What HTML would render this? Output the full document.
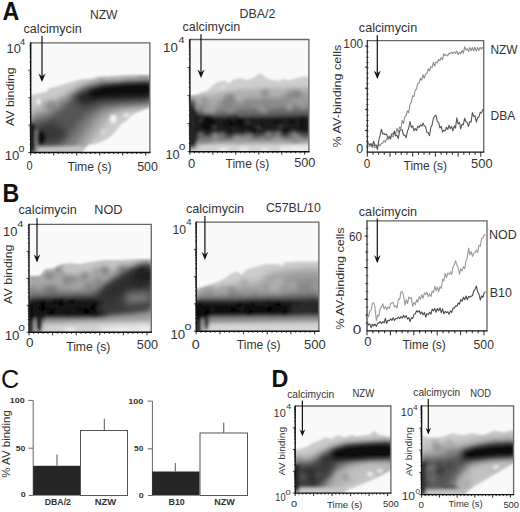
<!DOCTYPE html>
<html><head><meta charset="utf-8"><title>figure</title><style>
html,body{margin:0;padding:0;background:#fff;width:520px;height:512px;overflow:hidden}
svg{display:block;font-family:"Liberation Sans",sans-serif}
</style></head><body>
<svg width="520" height="512" viewBox="0 0 520 512">
<defs><filter id="blur" filterUnits="userSpaceOnUse" x="0" y="0" width="520" height="512"><feGaussianBlur stdDeviation="0.8"/></filter>
<filter id="b1" filterUnits="userSpaceOnUse" x="0" y="0" width="520" height="512"><feGaussianBlur stdDeviation="1.2"/></filter>
<filter id="b2" filterUnits="userSpaceOnUse" x="0" y="0" width="520" height="512"><feGaussianBlur stdDeviation="2.2"/></filter>
<filter id="b3" filterUnits="userSpaceOnUse" x="0" y="0" width="520" height="512"><feGaussianBlur stdDeviation="3.5"/></filter></defs>
<rect width="520" height="512" fill="#fff"/>
<clipPath id="cA1"><rect x="30.7" y="42.8" width="119.2" height="109.7"/></clipPath>
<g clip-path="url(#cA1)">
<rect x="30.7" y="42.8" width="119.2" height="109.7" fill="#f9f9f9"/>
<g filter="url(#blur)">
<clipPath id="eA1"><polygon points="30.0,95.5 37.0,93.7 46.0,91.9 49.6,88.3 56.8,86.5 65.8,83.8 74.7,81.1 81.9,79.3 92.0,78.4 98.8,76.6 115.0,75.7 133.0,74.8 151.0,75.2 151.0,107.1 133.0,114.3 127.6,119.7 120.4,125.1 115.0,132.3 111.4,136.0 106.0,139.5 98.8,143.1 88.0,144.9 84.0,149.0 82.0,154.0 30.0,154.0"/></clipPath>
<polygon points="30.0,95.5 37.0,93.7 46.0,91.9 49.6,88.3 56.8,86.5 65.8,83.8 74.7,81.1 81.9,79.3 92.0,78.4 98.8,76.6 115.0,75.7 133.0,74.8 151.0,75.2 151.0,107.1 133.0,114.3 127.6,119.7 120.4,125.1 115.0,132.3 111.4,136.0 106.0,139.5 98.8,143.1 88.0,144.9 84.0,149.0 82.0,154.0 30.0,154.0" fill="#cbcbcb"/>
<g clip-path="url(#eA1)">
<polygon points="30.0,112.0 50.0,104.0 65.0,95.0 80.0,87.0 95.0,81.0 120.0,79.0 151.0,78.0 151.0,106.0 130.0,109.0 115.0,114.0 105.0,122.0 98.0,132.0 90.0,142.0 84.0,152.0 30.0,152.0" fill="#a4a4a4" filter="url(#b3)"/>
<ellipse cx="41.4" cy="103.5" rx="4.2" ry="4.5" fill="#b4b4b4" filter="url(#b2)"/>
<ellipse cx="144.5" cy="76.7" rx="5.1" ry="3.1" fill="#909090" filter="url(#b2)"/>
<ellipse cx="112.8" cy="83.1" rx="4.6" ry="3.9" fill="#a8a8a8" filter="url(#b2)"/>
<ellipse cx="62.5" cy="124.7" rx="3.4" ry="4.8" fill="#a8a8a8" filter="url(#b2)"/>
<ellipse cx="77.6" cy="96.5" rx="4.2" ry="4.3" fill="#b4b4b4" filter="url(#b2)"/>
<ellipse cx="63.1" cy="103.2" rx="4.8" ry="4.2" fill="#909090" filter="url(#b2)"/>
<ellipse cx="132.3" cy="81.8" rx="3.6" ry="5.0" fill="#a8a8a8" filter="url(#b2)"/>
<ellipse cx="43.3" cy="136.0" rx="5.6" ry="4.5" fill="#b4b4b4" filter="url(#b2)"/>
<ellipse cx="62.9" cy="115.5" rx="4.1" ry="3.6" fill="#b4b4b4" filter="url(#b2)"/>
<ellipse cx="93.0" cy="92.1" rx="3.9" ry="4.2" fill="#a8a8a8" filter="url(#b2)"/>
<ellipse cx="111.1" cy="100.0" rx="5.9" ry="5.3" fill="#909090" filter="url(#b2)"/>
<ellipse cx="126.9" cy="83.0" rx="3.5" ry="4.4" fill="#9c9c9c" filter="url(#b2)"/>
<ellipse cx="50.3" cy="105.5" rx="5.8" ry="4.3" fill="#909090" filter="url(#b2)"/>
<ellipse cx="113.7" cy="86.2" rx="3.9" ry="5.0" fill="#b4b4b4" filter="url(#b2)"/>
<ellipse cx="52.5" cy="105.5" rx="4.0" ry="3.8" fill="#909090" filter="url(#b2)"/>
<ellipse cx="101.8" cy="83.8" rx="3.3" ry="5.4" fill="#909090" filter="url(#b2)"/>
<ellipse cx="145.7" cy="78.6" rx="3.5" ry="5.4" fill="#b4b4b4" filter="url(#b2)"/>
<ellipse cx="92.3" cy="101.5" rx="5.4" ry="3.5" fill="#9c9c9c" filter="url(#b2)"/>
<ellipse cx="148.0" cy="75.5" rx="4.8" ry="5.0" fill="#a8a8a8" filter="url(#b2)"/>
<ellipse cx="55.2" cy="134.5" rx="5.1" ry="5.3" fill="#909090" filter="url(#b2)"/>
<ellipse cx="68.0" cy="130.3" rx="6.0" ry="3.6" fill="#909090" filter="url(#b2)"/>
<ellipse cx="50.6" cy="127.0" rx="4.3" ry="5.4" fill="#b4b4b4" filter="url(#b2)"/>
<ellipse cx="53.7" cy="142.4" rx="3.1" ry="4.4" fill="#b4b4b4" filter="url(#b2)"/>
<ellipse cx="126.8" cy="89.4" rx="5.6" ry="4.6" fill="#a8a8a8" filter="url(#b2)"/>
<ellipse cx="101.4" cy="96.8" rx="5.1" ry="4.1" fill="#b4b4b4" filter="url(#b2)"/>
<ellipse cx="97.6" cy="106.1" rx="4.4" ry="4.6" fill="#a8a8a8" filter="url(#b2)"/>
<ellipse cx="75.9" cy="105.3" rx="4.6" ry="3.6" fill="#b4b4b4" filter="url(#b2)"/>
<ellipse cx="143.7" cy="76.3" rx="4.7" ry="3.1" fill="#909090" filter="url(#b2)"/>
<ellipse cx="120.6" cy="83.2" rx="3.7" ry="5.1" fill="#b4b4b4" filter="url(#b2)"/>
<ellipse cx="86.8" cy="113.8" rx="4.6" ry="3.4" fill="#9c9c9c" filter="url(#b2)"/>
<ellipse cx="120.9" cy="92.6" rx="3.1" ry="4.4" fill="#9c9c9c" filter="url(#b2)"/>
<ellipse cx="68.5" cy="100.2" rx="5.4" ry="3.7" fill="#a8a8a8" filter="url(#b2)"/>
<ellipse cx="43.7" cy="120.5" rx="5.1" ry="3.3" fill="#9c9c9c" filter="url(#b2)"/>
<ellipse cx="78.0" cy="119.5" rx="4.1" ry="4.8" fill="#909090" filter="url(#b2)"/>
<ellipse cx="146.6" cy="73.0" rx="5.1" ry="5.1" fill="#a8a8a8" filter="url(#b2)"/>
<ellipse cx="142.9" cy="78.7" rx="3.5" ry="2.8" fill="#a8a8a8" filter="url(#b2)"/>
<ellipse cx="56.9" cy="139.1" rx="5.5" ry="5.3" fill="#9c9c9c" filter="url(#b2)"/>
<ellipse cx="81.8" cy="119.5" rx="3.9" ry="5.2" fill="#9c9c9c" filter="url(#b2)"/>
<ellipse cx="84.4" cy="118.4" rx="3.7" ry="4.3" fill="#9c9c9c" filter="url(#b2)"/>
<ellipse cx="133.5" cy="82.6" rx="5.1" ry="2.8" fill="#a8a8a8" filter="url(#b2)"/>
<polygon points="30.0,118.0 45.0,114.0 60.0,106.0 72.0,96.0 85.0,88.0 100.0,84.0 151.0,82.0 151.0,104.0 120.0,106.0 105.0,110.0 95.0,118.0 88.0,128.0 80.0,140.0 72.0,150.0 30.0,151.0" fill="#7a7a7a" filter="url(#b3)"/>
<polygon points="30.0,123.0 45.0,120.0 58.0,112.0 70.0,101.0 82.0,92.0 95.0,87.0 151.0,84.0 151.0,101.0 115.0,103.0 98.0,107.0 88.0,114.0 78.0,125.0 68.0,137.0 60.0,146.0 30.0,148.0" fill="#555555" filter="url(#b3)"/>
<ellipse cx="50" cy="133" rx="15" ry="10" fill="#383838" filter="url(#b3)"/>
<polygon points="72.0,97.0 88.0,89.0 151.0,84.0 151.0,99.0 100.0,101.0 84.0,106.0" fill="#262626" filter="url(#b3)"/>
<polygon points="90.0,91.0 105.0,85.5 125.0,83.5 151.0,82.5 151.0,95.0 125.0,95.5 105.0,96.5 90.0,98.0" fill="#0c0c0c" filter="url(#b2)"/>
<ellipse cx="38.8" cy="101.8" rx="2.2" ry="3.0" fill="#f4f4f4" filter="url(#b1)"/>
<ellipse cx="113.2" cy="118.8" rx="3.4" ry="4.3" fill="#f4f4f4" filter="url(#b1)"/>
<ellipse cx="126.5" cy="115.2" rx="3.5" ry="1.8" fill="#eeeeee" filter="url(#b1)"/>
<ellipse cx="103.2" cy="131.8" rx="1.8" ry="1.4" fill="#f0f0f0" filter="url(#b1)"/>
<polygon points="36.0,147.0 82.0,146.0 84.0,153.0 36.0,153.0" fill="#c4c4c4" filter="url(#b1)"/>
<polygon points="30.0,123.0 34.5,124.0 34.5,152.0 30.0,152.0" fill="#111111" filter="url(#b1)"/>
<polygon points="35.0,130.0 37.5,130.0 37.5,152.0 35.0,152.0" fill="#8a8a8a" filter="url(#b1)"/>
<ellipse cx="41.5" cy="138" rx="3.5" ry="7" fill="#111111" filter="url(#b1)"/>
</g></g></g>
<clipPath id="cA2"><rect x="189.9" y="39.5" width="119.0" height="112.2"/></clipPath>
<g clip-path="url(#cA2)">
<rect x="189.9" y="39.5" width="119.0" height="112.2" fill="#f9f9f9"/>
<g filter="url(#blur)">
<clipPath id="eA2"><polygon points="189.0,96.0 196.0,95.0 203.0,92.0 208.0,90.0 213.0,85.0 218.0,82.0 224.0,80.5 229.0,83.0 233.0,80.0 240.0,78.0 246.0,80.0 251.0,79.0 256.0,76.0 259.0,73.0 263.0,75.0 268.0,79.0 273.0,80.0 279.0,81.0 283.0,79.0 290.0,80.0 297.0,78.0 303.0,76.5 310.0,77.0 310.0,152.0 189.0,152.0"/></clipPath>
<polygon points="189.0,96.0 196.0,95.0 203.0,92.0 208.0,90.0 213.0,85.0 218.0,82.0 224.0,80.5 229.0,83.0 233.0,80.0 240.0,78.0 246.0,80.0 251.0,79.0 256.0,76.0 259.0,73.0 263.0,75.0 268.0,79.0 273.0,80.0 279.0,81.0 283.0,79.0 290.0,80.0 297.0,78.0 303.0,76.5 310.0,77.0 310.0,152.0 189.0,152.0" fill="#cfcfcf"/>
<g clip-path="url(#eA2)">
<ellipse cx="283" cy="73.5" rx="2.5" ry="2.2" fill="#d4d4d4" filter="url(#b1)"/>
<ellipse cx="294" cy="75" rx="1.5" ry="1.5" fill="#dadada" filter="url(#b1)"/>
<ellipse cx="223" cy="87" rx="2" ry="1.5" fill="#eeeeee" filter="url(#b1)"/>
<polygon points="189.0,100.0 205.0,96.0 220.0,92.0 240.0,90.0 260.0,88.0 280.0,88.0 310.0,87.0 310.0,146.0 189.0,146.0" fill="#b0b0b0" filter="url(#b2)"/>
<polygon points="189.0,104.0 210.0,102.0 240.0,99.0 270.0,98.0 310.0,96.0 310.0,141.0 189.0,141.0" fill="#8e8e8e" filter="url(#b2)"/>
<polygon points="189.0,110.0 210.0,110.0 240.0,109.0 270.0,108.0 310.0,107.0 310.0,120.0 189.0,120.0" fill="#6a6a6a" filter="url(#b2)"/>
<ellipse cx="264.3" cy="106.8" rx="4.5" ry="4.4" fill="#808080" filter="url(#b2)"/>
<ellipse cx="289.5" cy="107.5" rx="3.1" ry="2.4" fill="#b0b0b0" filter="url(#b2)"/>
<ellipse cx="205.1" cy="101.4" rx="3.1" ry="3.5" fill="#b0b0b0" filter="url(#b2)"/>
<ellipse cx="193.5" cy="96.3" rx="3.2" ry="4.3" fill="#a0a0a0" filter="url(#b2)"/>
<ellipse cx="210.5" cy="107.9" rx="2.8" ry="3.6" fill="#b0b0b0" filter="url(#b2)"/>
<ellipse cx="207.3" cy="111.4" rx="2.5" ry="4.0" fill="#b0b0b0" filter="url(#b2)"/>
<ellipse cx="293.2" cy="97.8" rx="4.9" ry="3.5" fill="#b0b0b0" filter="url(#b2)"/>
<ellipse cx="213.1" cy="111.4" rx="3.0" ry="4.4" fill="#a0a0a0" filter="url(#b2)"/>
<ellipse cx="226.7" cy="99.2" rx="2.9" ry="2.6" fill="#808080" filter="url(#b2)"/>
<ellipse cx="230.5" cy="108.3" rx="4.0" ry="3.6" fill="#8a8a8a" filter="url(#b2)"/>
<ellipse cx="199.7" cy="99.1" rx="3.3" ry="3.8" fill="#b0b0b0" filter="url(#b2)"/>
<ellipse cx="247.8" cy="106.1" rx="2.6" ry="4.4" fill="#808080" filter="url(#b2)"/>
<ellipse cx="302.1" cy="99.2" rx="3.5" ry="3.5" fill="#a0a0a0" filter="url(#b2)"/>
<ellipse cx="234.5" cy="103.6" rx="2.5" ry="2.4" fill="#b0b0b0" filter="url(#b2)"/>
<ellipse cx="264.4" cy="111.1" rx="2.8" ry="2.8" fill="#a0a0a0" filter="url(#b2)"/>
<ellipse cx="231.9" cy="99.1" rx="3.8" ry="4.0" fill="#808080" filter="url(#b2)"/>
<ellipse cx="260.4" cy="107.6" rx="3.4" ry="2.9" fill="#a0a0a0" filter="url(#b2)"/>
<ellipse cx="301.7" cy="93.8" rx="3.4" ry="3.6" fill="#b0b0b0" filter="url(#b2)"/>
<ellipse cx="231.4" cy="110.5" rx="3.9" ry="3.0" fill="#8a8a8a" filter="url(#b2)"/>
<ellipse cx="227.5" cy="108.0" rx="4.1" ry="3.9" fill="#8a8a8a" filter="url(#b2)"/>
<ellipse cx="307.6" cy="95.2" rx="2.6" ry="4.5" fill="#a0a0a0" filter="url(#b2)"/>
<ellipse cx="195.7" cy="106.8" rx="3.4" ry="2.8" fill="#a0a0a0" filter="url(#b2)"/>
<ellipse cx="208.9" cy="111.6" rx="4.1" ry="4.1" fill="#8a8a8a" filter="url(#b2)"/>
<ellipse cx="289.3" cy="94.6" rx="4.3" ry="4.4" fill="#a0a0a0" filter="url(#b2)"/>
<ellipse cx="204.4" cy="100.7" rx="2.9" ry="4.2" fill="#8a8a8a" filter="url(#b2)"/>
<ellipse cx="208.4" cy="110.4" rx="4.1" ry="2.6" fill="#a0a0a0" filter="url(#b2)"/>
<ellipse cx="303.4" cy="105.8" rx="3.3" ry="2.9" fill="#a0a0a0" filter="url(#b2)"/>
<ellipse cx="238.8" cy="94.9" rx="3.4" ry="4.5" fill="#b0b0b0" filter="url(#b2)"/>
<ellipse cx="264.7" cy="102.0" rx="3.3" ry="2.5" fill="#8a8a8a" filter="url(#b2)"/>
<ellipse cx="251.8" cy="103.0" rx="3.8" ry="2.4" fill="#8a8a8a" filter="url(#b2)"/>
<ellipse cx="272.6" cy="105.3" rx="4.4" ry="3.1" fill="#8a8a8a" filter="url(#b2)"/>
<ellipse cx="288.9" cy="97.3" rx="5.0" ry="3.9" fill="#8a8a8a" filter="url(#b2)"/>
<ellipse cx="267.4" cy="103.6" rx="2.5" ry="3.5" fill="#8a8a8a" filter="url(#b2)"/>
<ellipse cx="229.8" cy="97.5" rx="3.2" ry="3.4" fill="#8a8a8a" filter="url(#b2)"/>
<ellipse cx="232.4" cy="104.9" rx="4.3" ry="4.1" fill="#8a8a8a" filter="url(#b2)"/>
<ellipse cx="299.0" cy="95.4" rx="4.7" ry="3.3" fill="#8a8a8a" filter="url(#b2)"/>
<ellipse cx="303.0" cy="102.4" rx="3.8" ry="2.6" fill="#8a8a8a" filter="url(#b2)"/>
<ellipse cx="300.7" cy="101.5" rx="4.2" ry="3.9" fill="#a0a0a0" filter="url(#b2)"/>
<ellipse cx="211.9" cy="107.6" rx="4.0" ry="3.7" fill="#a0a0a0" filter="url(#b2)"/>
<ellipse cx="227.1" cy="103.1" rx="4.7" ry="2.9" fill="#808080" filter="url(#b2)"/>
<ellipse cx="214.7" cy="103.7" rx="4.1" ry="2.7" fill="#b0b0b0" filter="url(#b2)"/>
<ellipse cx="265.2" cy="92.8" rx="3.7" ry="2.8" fill="#808080" filter="url(#b2)"/>
<ellipse cx="295.4" cy="94.2" rx="4.9" ry="3.3" fill="#808080" filter="url(#b2)"/>
<ellipse cx="240.2" cy="99.0" rx="4.2" ry="2.4" fill="#b0b0b0" filter="url(#b2)"/>
<ellipse cx="219.6" cy="110.1" rx="2.5" ry="3.2" fill="#8a8a8a" filter="url(#b2)"/>
<polygon points="189.0,113.0 210.0,115.0 240.0,116.0 270.0,115.5 310.0,114.0 310.0,137.0 270.0,138.0 240.0,138.0 189.0,140.0" fill="#3a3a3a" filter="url(#b2)"/>
<polygon points="189.0,104.0 194.0,108.0 198.0,116.0 215.0,118.0 240.0,118.5 270.0,118.0 310.0,117.5 310.0,132.0 270.0,132.0 240.0,133.0 215.0,134.0 199.0,136.0 194.0,145.0 189.0,146.0" fill="#1a1a1a" filter="url(#b1)"/>
<ellipse cx="229.6" cy="119.6" rx="3.0" ry="1.9" fill="#0a0a0a" filter="url(#b1)"/>
<ellipse cx="234.4" cy="118.0" rx="2.8" ry="1.9" fill="#111" filter="url(#b1)"/>
<ellipse cx="240.5" cy="121.1" rx="2.8" ry="1.9" fill="#0a0a0a" filter="url(#b1)"/>
<ellipse cx="301.9" cy="127.7" rx="2.9" ry="1.9" fill="#111" filter="url(#b1)"/>
<ellipse cx="197.8" cy="120.8" rx="2.8" ry="2.0" fill="#111" filter="url(#b1)"/>
<ellipse cx="208.7" cy="119.0" rx="2.5" ry="2.9" fill="#0a0a0a" filter="url(#b1)"/>
<ellipse cx="204.0" cy="126.7" rx="2.3" ry="1.9" fill="#0a0a0a" filter="url(#b1)"/>
<ellipse cx="257.5" cy="127.5" rx="2.7" ry="2.5" fill="#383838" filter="url(#b1)"/>
<ellipse cx="246.0" cy="132.7" rx="2.5" ry="2.1" fill="#0a0a0a" filter="url(#b1)"/>
<ellipse cx="273.1" cy="121.1" rx="2.9" ry="2.5" fill="#383838" filter="url(#b1)"/>
<ellipse cx="276.6" cy="121.9" rx="3.5" ry="2.0" fill="#111" filter="url(#b1)"/>
<ellipse cx="211.1" cy="122.8" rx="3.4" ry="2.4" fill="#0a0a0a" filter="url(#b1)"/>
<ellipse cx="280.7" cy="126.7" rx="3.3" ry="2.2" fill="#383838" filter="url(#b1)"/>
<ellipse cx="260.9" cy="126.9" rx="2.7" ry="2.9" fill="#383838" filter="url(#b1)"/>
<ellipse cx="247.0" cy="128.3" rx="2.1" ry="2.7" fill="#111" filter="url(#b1)"/>
<ellipse cx="225.0" cy="123.6" rx="3.0" ry="1.8" fill="#111" filter="url(#b1)"/>
<ellipse cx="233.2" cy="127.4" rx="2.7" ry="2.1" fill="#383838" filter="url(#b1)"/>
<ellipse cx="207.0" cy="121.2" rx="2.6" ry="3.0" fill="#0a0a0a" filter="url(#b1)"/>
<ellipse cx="211.3" cy="123.8" rx="2.4" ry="2.0" fill="#111" filter="url(#b1)"/>
<ellipse cx="292.2" cy="121.7" rx="2.6" ry="2.3" fill="#111" filter="url(#b1)"/>
<ellipse cx="303.1" cy="119.6" rx="2.3" ry="2.1" fill="#0a0a0a" filter="url(#b1)"/>
<ellipse cx="193.4" cy="131.1" rx="2.3" ry="2.2" fill="#0a0a0a" filter="url(#b1)"/>
<ellipse cx="240.6" cy="123.3" rx="2.8" ry="3.1" fill="#0a0a0a" filter="url(#b1)"/>
<ellipse cx="245.0" cy="131.8" rx="3.4" ry="2.7" fill="#111" filter="url(#b1)"/>
<ellipse cx="238.2" cy="123.7" rx="2.7" ry="2.3" fill="#0a0a0a" filter="url(#b1)"/>
<ellipse cx="199.8" cy="120.5" rx="2.2" ry="2.3" fill="#0a0a0a" filter="url(#b1)"/>
<ellipse cx="203.9" cy="126.6" rx="2.8" ry="3.1" fill="#0a0a0a" filter="url(#b1)"/>
<ellipse cx="200.2" cy="120.5" rx="2.6" ry="2.7" fill="#383838" filter="url(#b1)"/>
<ellipse cx="261.9" cy="125.1" rx="2.2" ry="2.5" fill="#111" filter="url(#b1)"/>
<ellipse cx="247.7" cy="122.3" rx="2.2" ry="2.8" fill="#383838" filter="url(#b1)"/>
<ellipse cx="247.5" cy="128.8" rx="2.8" ry="2.1" fill="#383838" filter="url(#b1)"/>
<ellipse cx="209.0" cy="126.2" rx="2.0" ry="2.5" fill="#0a0a0a" filter="url(#b1)"/>
<ellipse cx="272.8" cy="121.4" rx="2.6" ry="2.0" fill="#0a0a0a" filter="url(#b1)"/>
<ellipse cx="253.8" cy="130.2" rx="2.5" ry="2.1" fill="#0a0a0a" filter="url(#b1)"/>
<ellipse cx="285.5" cy="130.9" rx="3.1" ry="2.1" fill="#111" filter="url(#b1)"/>
<ellipse cx="233.2" cy="117.5" rx="2.0" ry="2.2" fill="#383838" filter="url(#b1)"/>
<ellipse cx="214.5" cy="127.3" rx="2.5" ry="2.9" fill="#383838" filter="url(#b1)"/>
<ellipse cx="302.8" cy="123.2" rx="2.3" ry="2.1" fill="#0a0a0a" filter="url(#b1)"/>
<ellipse cx="231.2" cy="125.2" rx="3.5" ry="2.6" fill="#0a0a0a" filter="url(#b1)"/>
<ellipse cx="247.6" cy="128.1" rx="3.2" ry="1.9" fill="#0a0a0a" filter="url(#b1)"/>
<ellipse cx="250.0" cy="137.4" rx="2.7" ry="3.4" fill="#999" filter="url(#b2)"/>
<ellipse cx="236.5" cy="138.2" rx="3.4" ry="2.7" fill="#aaa" filter="url(#b2)"/>
<ellipse cx="275.6" cy="140.6" rx="2.8" ry="3.5" fill="#aaa" filter="url(#b2)"/>
<ellipse cx="245.6" cy="135.5" rx="2.6" ry="2.4" fill="#aaa" filter="url(#b2)"/>
<ellipse cx="206.8" cy="140.2" rx="3.7" ry="3.4" fill="#808080" filter="url(#b2)"/>
<ellipse cx="222.1" cy="136.0" rx="3.7" ry="3.5" fill="#808080" filter="url(#b2)"/>
<ellipse cx="298.4" cy="137.6" rx="3.0" ry="2.3" fill="#aaa" filter="url(#b2)"/>
<ellipse cx="295.7" cy="141.9" rx="2.6" ry="2.8" fill="#808080" filter="url(#b2)"/>
<ellipse cx="215.0" cy="136.1" rx="3.6" ry="3.4" fill="#aaa" filter="url(#b2)"/>
<ellipse cx="200.4" cy="140.9" rx="2.8" ry="3.4" fill="#808080" filter="url(#b2)"/>
<ellipse cx="200.9" cy="134.8" rx="3.3" ry="2.3" fill="#999" filter="url(#b2)"/>
<ellipse cx="261.9" cy="138.8" rx="2.8" ry="2.3" fill="#999" filter="url(#b2)"/>
<ellipse cx="269.0" cy="134.8" rx="3.4" ry="2.5" fill="#aaa" filter="url(#b2)"/>
<ellipse cx="277.7" cy="134.4" rx="2.9" ry="3.2" fill="#999" filter="url(#b2)"/>
<ellipse cx="280.5" cy="140.6" rx="3.4" ry="2.3" fill="#aaa" filter="url(#b2)"/>
<ellipse cx="243.5" cy="142.2" rx="2.7" ry="2.9" fill="#aaa" filter="url(#b2)"/>
<ellipse cx="239.5" cy="140.1" rx="3.4" ry="3.3" fill="#999" filter="url(#b2)"/>
<ellipse cx="293.7" cy="135.0" rx="3.8" ry="2.7" fill="#999" filter="url(#b2)"/>
<polygon points="200.0,145.0 310.0,144.5 310.0,152.0 200.0,152.0" fill="#d2d2d2" filter="url(#b1)"/>
<polygon points="280.0,146.0 310.0,145.0 310.0,152.0 280.0,152.0" fill="#e8e8e8" filter="url(#b1)"/>
<polygon points="189.0,100.0 194.0,100.0 195.0,148.0 189.0,148.0" fill="#2a2a2a" filter="url(#b2)"/>
<ellipse cx="223.5" cy="149.5" rx="4.5" ry="2.0" fill="#ececec" filter="url(#b1)"/>
<ellipse cx="244" cy="149.5" rx="5" ry="2.0" fill="#ececec" filter="url(#b1)"/>
<ellipse cx="265" cy="150" rx="4" ry="1.8" fill="#eeeeee" filter="url(#b1)"/>
<ellipse cx="297" cy="148.5" rx="6" ry="2.2" fill="#ececec" filter="url(#b1)"/>
</g></g></g>
<clipPath id="cB1"><rect x="29.0" y="224.4" width="122.3" height="107.9"/></clipPath>
<g clip-path="url(#cB1)">
<rect x="29.0" y="224.4" width="122.3" height="107.9" fill="#f9f9f9"/>
<g filter="url(#blur)">
<clipPath id="eB1"><polygon points="28.0,276.5 40.3,275.7 45.2,269.1 53.5,268.2 61.8,264.1 70.1,263.3 80.1,264.1 88.0,262.4 104.6,260.0 121.2,260.0 137.8,259.1 152.0,259.1 152.0,334.0 28.0,334.0"/></clipPath>
<polygon points="28.0,276.5 40.3,275.7 45.2,269.1 53.5,268.2 61.8,264.1 70.1,263.3 80.1,264.1 88.0,262.4 104.6,260.0 121.2,260.0 137.8,259.1 152.0,259.1 152.0,334.0 28.0,334.0" fill="#c4c4c4"/>
<g clip-path="url(#eB1)">
<polygon points="28.0,280.0 60.0,277.0 90.0,274.0 120.0,270.0 152.0,265.0 152.0,324.0 28.0,324.0" fill="#a2a2a2" filter="url(#b3)"/>
<ellipse cx="49.8" cy="289.3" rx="4.9" ry="4.0" fill="#aaa" filter="url(#b2)"/>
<ellipse cx="148.8" cy="283.3" rx="5.9" ry="3.2" fill="#7e7e7e" filter="url(#b2)"/>
<ellipse cx="58.3" cy="270.1" rx="4.1" ry="4.3" fill="#888" filter="url(#b2)"/>
<ellipse cx="47.4" cy="291.0" rx="5.8" ry="4.6" fill="#9e9e9e" filter="url(#b2)"/>
<ellipse cx="149.7" cy="290.7" rx="5.6" ry="4.4" fill="#888" filter="url(#b2)"/>
<ellipse cx="144.8" cy="285.1" rx="5.1" ry="4.5" fill="#969696" filter="url(#b2)"/>
<ellipse cx="32.8" cy="290.7" rx="3.3" ry="4.9" fill="#888" filter="url(#b2)"/>
<ellipse cx="84.4" cy="285.5" rx="4.0" ry="4.0" fill="#aaa" filter="url(#b2)"/>
<ellipse cx="109.8" cy="283.2" rx="5.5" ry="2.9" fill="#aaa" filter="url(#b2)"/>
<ellipse cx="55.0" cy="297.1" rx="5.7" ry="4.7" fill="#7e7e7e" filter="url(#b2)"/>
<ellipse cx="148.7" cy="272.0" rx="4.7" ry="4.2" fill="#9e9e9e" filter="url(#b2)"/>
<ellipse cx="54.1" cy="295.8" rx="5.7" ry="3.8" fill="#969696" filter="url(#b2)"/>
<ellipse cx="144.5" cy="284.0" rx="4.0" ry="4.0" fill="#969696" filter="url(#b2)"/>
<ellipse cx="33.2" cy="272.6" rx="5.2" ry="5.4" fill="#9e9e9e" filter="url(#b2)"/>
<ellipse cx="30.3" cy="272.0" rx="4.8" ry="4.1" fill="#7e7e7e" filter="url(#b2)"/>
<ellipse cx="103.1" cy="285.6" rx="4.9" ry="3.2" fill="#aaa" filter="url(#b2)"/>
<ellipse cx="105.2" cy="293.3" rx="4.0" ry="4.8" fill="#969696" filter="url(#b2)"/>
<ellipse cx="59.5" cy="274.7" rx="5.8" ry="3.2" fill="#9e9e9e" filter="url(#b2)"/>
<ellipse cx="75.0" cy="289.1" rx="5.0" ry="5.1" fill="#aaa" filter="url(#b2)"/>
<ellipse cx="78.8" cy="297.7" rx="5.9" ry="4.3" fill="#969696" filter="url(#b2)"/>
<ellipse cx="88.9" cy="280.5" rx="3.7" ry="5.1" fill="#aaa" filter="url(#b2)"/>
<ellipse cx="97.4" cy="282.3" rx="4.2" ry="4.7" fill="#888" filter="url(#b2)"/>
<ellipse cx="130.4" cy="271.5" rx="3.8" ry="3.5" fill="#9e9e9e" filter="url(#b2)"/>
<ellipse cx="59.8" cy="281.0" rx="5.6" ry="4.4" fill="#aaa" filter="url(#b2)"/>
<ellipse cx="148.0" cy="290.9" rx="4.4" ry="3.4" fill="#7e7e7e" filter="url(#b2)"/>
<ellipse cx="139.4" cy="283.4" rx="5.9" ry="5.1" fill="#969696" filter="url(#b2)"/>
<ellipse cx="125.4" cy="294.7" rx="4.8" ry="3.9" fill="#7e7e7e" filter="url(#b2)"/>
<ellipse cx="138.3" cy="283.4" rx="3.4" ry="4.3" fill="#aaa" filter="url(#b2)"/>
<ellipse cx="122.2" cy="270.3" rx="5.1" ry="5.3" fill="#888" filter="url(#b2)"/>
<ellipse cx="61.7" cy="279.1" rx="3.7" ry="5.3" fill="#9e9e9e" filter="url(#b2)"/>
<ellipse cx="60.9" cy="281.4" rx="5.9" ry="5.1" fill="#aaa" filter="url(#b2)"/>
<ellipse cx="47.0" cy="281.1" rx="3.6" ry="4.4" fill="#aaa" filter="url(#b2)"/>
<ellipse cx="38.6" cy="273.3" rx="3.8" ry="3.5" fill="#969696" filter="url(#b2)"/>
<ellipse cx="77.6" cy="294.9" rx="4.9" ry="3.2" fill="#9e9e9e" filter="url(#b2)"/>
<ellipse cx="54.2" cy="290.8" rx="5.3" ry="4.3" fill="#7e7e7e" filter="url(#b2)"/>
<ellipse cx="134.9" cy="291.7" rx="5.4" ry="2.7" fill="#9e9e9e" filter="url(#b2)"/>
<ellipse cx="133.7" cy="281.1" rx="4.7" ry="5.0" fill="#aaa" filter="url(#b2)"/>
<ellipse cx="60.3" cy="289.5" rx="3.9" ry="2.8" fill="#9e9e9e" filter="url(#b2)"/>
<ellipse cx="48.7" cy="290.3" rx="6.0" ry="4.9" fill="#7e7e7e" filter="url(#b2)"/>
<ellipse cx="88.8" cy="286.0" rx="4.6" ry="2.9" fill="#7e7e7e" filter="url(#b2)"/>
<ellipse cx="118.1" cy="297.1" rx="3.9" ry="4.6" fill="#7e7e7e" filter="url(#b2)"/>
<ellipse cx="120.9" cy="275.3" rx="4.8" ry="3.6" fill="#aaa" filter="url(#b2)"/>
<ellipse cx="72.6" cy="278.9" rx="6.0" ry="3.0" fill="#888" filter="url(#b2)"/>
<ellipse cx="108.2" cy="287.5" rx="5.4" ry="5.3" fill="#7e7e7e" filter="url(#b2)"/>
<ellipse cx="104.6" cy="270.6" rx="4.9" ry="3.9" fill="#7e7e7e" filter="url(#b2)"/>
<ellipse cx="91.6" cy="294.5" rx="3.2" ry="2.8" fill="#9e9e9e" filter="url(#b2)"/>
<ellipse cx="35.0" cy="277.7" rx="4.8" ry="3.8" fill="#9e9e9e" filter="url(#b2)"/>
<ellipse cx="84.7" cy="276.6" rx="4.2" ry="4.0" fill="#888" filter="url(#b2)"/>
<ellipse cx="34.5" cy="274.8" rx="4.1" ry="4.3" fill="#aaa" filter="url(#b2)"/>
<ellipse cx="123.5" cy="287.6" rx="5.3" ry="4.5" fill="#7e7e7e" filter="url(#b2)"/>
<ellipse cx="113.9" cy="289.1" rx="3.7" ry="5.2" fill="#9e9e9e" filter="url(#b2)"/>
<ellipse cx="66.7" cy="280.7" rx="4.6" ry="4.6" fill="#888" filter="url(#b2)"/>
<ellipse cx="49.4" cy="275.7" rx="5.6" ry="4.6" fill="#888" filter="url(#b2)"/>
<ellipse cx="96.4" cy="272.2" rx="3.9" ry="5.2" fill="#9e9e9e" filter="url(#b2)"/>
<ellipse cx="148.0" cy="297.7" rx="3.5" ry="3.9" fill="#969696" filter="url(#b2)"/>
<polygon points="28.0,293.0 60.0,292.0 90.0,291.0 105.0,287.0 120.0,279.0 135.0,271.0 152.0,267.0 152.0,312.0 130.0,314.0 110.0,316.0 80.0,318.0 28.0,319.0" fill="#707070" filter="url(#b3)"/>
<polygon points="28.0,298.0 60.0,297.0 90.0,296.0 106.0,292.0 120.0,283.0 135.0,274.0 152.0,270.0 152.0,306.0 130.0,309.0 110.0,314.0 80.0,318.0 28.0,319.0" fill="#404040" filter="url(#b3)"/>
<polygon points="28.0,300.0 60.0,299.5 90.0,299.0 102.0,300.0 110.0,306.0 104.0,318.0 60.0,319.0 28.0,319.0" fill="#141414" filter="url(#b2)"/>
<ellipse cx="94.7" cy="315.2" rx="3.3" ry="1.7" fill="#0a0a0a" filter="url(#b1)"/>
<ellipse cx="51.5" cy="306.7" rx="2.4" ry="2.7" fill="#222" filter="url(#b1)"/>
<ellipse cx="61.1" cy="304.3" rx="2.6" ry="1.7" fill="#050505" filter="url(#b1)"/>
<ellipse cx="98.7" cy="308.5" rx="1.8" ry="2.6" fill="#222" filter="url(#b1)"/>
<ellipse cx="55.1" cy="301.9" rx="3.1" ry="2.5" fill="#0a0a0a" filter="url(#b1)"/>
<ellipse cx="42.0" cy="304.2" rx="3.0" ry="2.5" fill="#222" filter="url(#b1)"/>
<ellipse cx="97.8" cy="305.2" rx="3.5" ry="2.5" fill="#222" filter="url(#b1)"/>
<ellipse cx="42.4" cy="308.2" rx="3.1" ry="2.7" fill="#050505" filter="url(#b1)"/>
<ellipse cx="42.7" cy="303.7" rx="2.3" ry="2.9" fill="#050505" filter="url(#b1)"/>
<ellipse cx="70.8" cy="302.2" rx="2.5" ry="2.5" fill="#0a0a0a" filter="url(#b1)"/>
<ellipse cx="49.6" cy="309.8" rx="2.0" ry="3.0" fill="#0a0a0a" filter="url(#b1)"/>
<ellipse cx="51.3" cy="312.7" rx="2.7" ry="2.0" fill="#050505" filter="url(#b1)"/>
<ellipse cx="73.4" cy="302.8" rx="3.2" ry="2.4" fill="#222" filter="url(#b1)"/>
<ellipse cx="68.2" cy="314.8" rx="2.8" ry="3.1" fill="#050505" filter="url(#b1)"/>
<ellipse cx="61.5" cy="301.5" rx="2.9" ry="2.2" fill="#050505" filter="url(#b1)"/>
<ellipse cx="86.7" cy="311.3" rx="3.5" ry="2.9" fill="#050505" filter="url(#b1)"/>
<ellipse cx="67.7" cy="315.8" rx="3.1" ry="2.1" fill="#222" filter="url(#b1)"/>
<ellipse cx="64.3" cy="301.6" rx="2.2" ry="2.5" fill="#222" filter="url(#b1)"/>
<ellipse cx="96.5" cy="304.2" rx="2.0" ry="2.4" fill="#050505" filter="url(#b1)"/>
<ellipse cx="78.3" cy="309.4" rx="2.2" ry="1.8" fill="#050505" filter="url(#b1)"/>
<ellipse cx="93.1" cy="307.7" rx="2.4" ry="3.0" fill="#050505" filter="url(#b1)"/>
<ellipse cx="92.7" cy="311.3" rx="2.5" ry="2.7" fill="#0a0a0a" filter="url(#b1)"/>
<ellipse cx="82.2" cy="309.2" rx="2.5" ry="2.1" fill="#0a0a0a" filter="url(#b1)"/>
<ellipse cx="72.7" cy="301.8" rx="2.3" ry="1.7" fill="#050505" filter="url(#b1)"/>
<ellipse cx="53.3" cy="309.4" rx="3.2" ry="2.0" fill="#0a0a0a" filter="url(#b1)"/>
<polygon points="100.0,300.0 125.0,298.0 150.0,296.0 150.0,309.0 125.0,313.0 100.0,316.0" fill="#3a3a3a" filter="url(#b3)"/>
<polygon points="98.0,292.0 112.0,280.0 125.0,271.0 140.0,265.0 152.0,263.0 152.0,286.0 140.0,289.0 125.0,294.0 110.0,302.0 100.0,304.0" fill="#2e2e2e" filter="url(#b3)"/>
<ellipse cx="143" cy="275" rx="8" ry="8" fill="#1c1c1c" filter="url(#b3)"/>
<polygon points="126.0,293.0 150.0,292.0 150.0,302.0 126.0,304.0" fill="#7a7a7a" filter="url(#b3)"/>
<polygon points="29.0,304.0 33.2,304.0 33.2,333.0 29.0,333.0" fill="#111" filter="url(#b1)"/>
<polygon points="33.8,318.0 36.3,318.0 36.3,333.0 33.8,333.0" fill="#9a9a9a" filter="url(#b1)"/>
<ellipse cx="39.3" cy="324" rx="2.4" ry="8" fill="#141414" filter="url(#b1)"/>
<polygon points="44.0,318.0 90.0,318.0 150.0,316.0 150.0,322.0 44.0,323.0" fill="#a0a0a0" filter="url(#b2)"/>
<polygon points="44.0,324.0 90.0,323.0 150.0,322.0 150.0,333.0 44.0,333.0" fill="#d0d0d0" filter="url(#b2)"/>
<polygon points="100.0,326.0 152.0,324.0 152.0,333.0 100.0,333.0" fill="#e6e6e6" filter="url(#b2)"/>
<ellipse cx="70" cy="329.5" rx="6" ry="2" fill="#ececec" filter="url(#b1)"/>
<ellipse cx="120" cy="330" rx="8" ry="2" fill="#ededed" filter="url(#b1)"/>
<ellipse cx="145" cy="329" rx="4" ry="2" fill="#eeeeee" filter="url(#b1)"/>
</g></g></g>
<clipPath id="cB2"><rect x="196.2" y="222.2" width="122.7" height="109.0"/></clipPath>
<g clip-path="url(#cB2)">
<rect x="196.2" y="222.2" width="122.7" height="109.0" fill="#f9f9f9"/>
<g filter="url(#blur)">
<clipPath id="eB2"><polygon points="195.0,289.0 204.0,286.5 213.9,283.2 223.9,279.0 230.5,274.0 237.1,271.6 242.1,274.9 245.4,269.9 256.0,266.6 266.0,264.1 279.2,264.1 281.7,266.6 284.2,262.4 299.1,261.6 314.0,261.6 320.0,261.6 320.0,333.0 195.0,333.0"/></clipPath>
<polygon points="195.0,289.0 204.0,286.5 213.9,283.2 223.9,279.0 230.5,274.0 237.1,271.6 242.1,274.9 245.4,269.9 256.0,266.6 266.0,264.1 279.2,264.1 281.7,266.6 284.2,262.4 299.1,261.6 314.0,261.6 320.0,261.6 320.0,333.0 195.0,333.0" fill="#cecece"/>
<g clip-path="url(#eB2)">
<polygon points="195.0,290.0 230.0,285.0 260.0,279.0 290.0,275.0 320.0,273.0 320.0,325.0 195.0,325.0" fill="#b4b4b4" filter="url(#b3)"/>
<polygon points="195.0,294.0 230.0,291.0 260.0,287.0 290.0,284.0 320.0,282.0 320.0,322.0 195.0,322.0" fill="#969696" filter="url(#b3)"/>
<polygon points="265.0,275.0 290.0,270.0 320.0,268.0 320.0,300.0 265.0,300.0" fill="#a0a0a0" filter="url(#b3)"/>
<polygon points="285.0,282.0 320.0,278.0 320.0,300.0 285.0,300.0" fill="#888888" filter="url(#b3)"/>
<ellipse cx="243.7" cy="283.9" rx="3.5" ry="5.2" fill="#a4a4a4" filter="url(#b2)"/>
<ellipse cx="264.4" cy="286.5" rx="5.2" ry="4.3" fill="#b0b0b0" filter="url(#b2)"/>
<ellipse cx="277.4" cy="294.3" rx="4.3" ry="3.1" fill="#b0b0b0" filter="url(#b2)"/>
<ellipse cx="315.6" cy="285.4" rx="3.8" ry="4.6" fill="#9a9a9a" filter="url(#b2)"/>
<ellipse cx="212.4" cy="294.1" rx="4.3" ry="3.5" fill="#b0b0b0" filter="url(#b2)"/>
<ellipse cx="206.7" cy="292.5" rx="4.4" ry="4.2" fill="#9a9a9a" filter="url(#b2)"/>
<ellipse cx="212.9" cy="296.4" rx="5.1" ry="5.3" fill="#9a9a9a" filter="url(#b2)"/>
<ellipse cx="230.0" cy="291.6" rx="3.1" ry="4.3" fill="#8e8e8e" filter="url(#b2)"/>
<ellipse cx="304.5" cy="294.4" rx="3.9" ry="3.1" fill="#9a9a9a" filter="url(#b2)"/>
<ellipse cx="246.9" cy="291.3" rx="4.5" ry="3.8" fill="#9a9a9a" filter="url(#b2)"/>
<ellipse cx="208.3" cy="290.5" rx="5.8" ry="3.8" fill="#a4a4a4" filter="url(#b2)"/>
<ellipse cx="262.8" cy="295.0" rx="5.0" ry="3.6" fill="#b0b0b0" filter="url(#b2)"/>
<ellipse cx="294.9" cy="292.2" rx="5.2" ry="4.5" fill="#9a9a9a" filter="url(#b2)"/>
<ellipse cx="316.4" cy="292.0" rx="5.7" ry="3.8" fill="#9a9a9a" filter="url(#b2)"/>
<ellipse cx="271.1" cy="287.1" rx="5.5" ry="5.3" fill="#b0b0b0" filter="url(#b2)"/>
<ellipse cx="224.5" cy="292.5" rx="4.4" ry="4.6" fill="#8e8e8e" filter="url(#b2)"/>
<ellipse cx="208.0" cy="294.7" rx="4.6" ry="5.2" fill="#b0b0b0" filter="url(#b2)"/>
<ellipse cx="231.2" cy="296.3" rx="4.0" ry="5.2" fill="#8e8e8e" filter="url(#b2)"/>
<ellipse cx="292.5" cy="285.0" rx="4.3" ry="2.9" fill="#b0b0b0" filter="url(#b2)"/>
<ellipse cx="223.7" cy="291.6" rx="4.4" ry="3.4" fill="#b0b0b0" filter="url(#b2)"/>
<ellipse cx="263.7" cy="290.6" rx="4.5" ry="3.0" fill="#8e8e8e" filter="url(#b2)"/>
<ellipse cx="279.1" cy="282.0" rx="6.0" ry="4.3" fill="#b0b0b0" filter="url(#b2)"/>
<ellipse cx="264.3" cy="288.5" rx="5.9" ry="5.1" fill="#a4a4a4" filter="url(#b2)"/>
<ellipse cx="201.6" cy="294.1" rx="5.8" ry="4.4" fill="#b0b0b0" filter="url(#b2)"/>
<ellipse cx="247.3" cy="296.5" rx="5.9" ry="2.8" fill="#a4a4a4" filter="url(#b2)"/>
<ellipse cx="223.7" cy="292.8" rx="5.8" ry="5.3" fill="#a4a4a4" filter="url(#b2)"/>
<ellipse cx="216.2" cy="296.0" rx="4.8" ry="4.9" fill="#a4a4a4" filter="url(#b2)"/>
<ellipse cx="272.6" cy="287.1" rx="4.2" ry="4.0" fill="#b0b0b0" filter="url(#b2)"/>
<ellipse cx="209.7" cy="293.3" rx="4.3" ry="4.0" fill="#8e8e8e" filter="url(#b2)"/>
<ellipse cx="233.0" cy="291.7" rx="4.4" ry="4.2" fill="#8e8e8e" filter="url(#b2)"/>
<ellipse cx="204.5" cy="295.8" rx="5.1" ry="4.6" fill="#9a9a9a" filter="url(#b2)"/>
<ellipse cx="288.9" cy="290.7" rx="4.2" ry="4.0" fill="#a4a4a4" filter="url(#b2)"/>
<ellipse cx="267.6" cy="287.3" rx="3.0" ry="3.1" fill="#8e8e8e" filter="url(#b2)"/>
<ellipse cx="215.8" cy="294.6" rx="4.6" ry="2.8" fill="#a4a4a4" filter="url(#b2)"/>
<ellipse cx="272.6" cy="289.5" rx="4.6" ry="3.4" fill="#b0b0b0" filter="url(#b2)"/>
<polygon points="195.0,298.0 230.0,297.0 260.0,296.0 290.0,295.0 320.0,294.0 320.0,320.0 195.0,320.0" fill="#5a5a5a" filter="url(#b3)"/>
<polygon points="195.0,301.0 230.0,301.0 260.0,300.0 290.0,300.0 320.0,299.0 320.0,317.0 195.0,318.0" fill="#2a2a2a" filter="url(#b2)"/>
<polygon points="195.0,303.0 230.0,304.0 260.0,303.5 280.0,303.0 300.0,305.0 300.0,315.0 260.0,315.5 230.0,316.0 195.0,317.0" fill="#101010" filter="url(#b2)"/>
<ellipse cx="203.9" cy="311.7" rx="2.2" ry="2.4" fill="#0a0a0a" filter="url(#b1)"/>
<ellipse cx="269.8" cy="305.1" rx="2.9" ry="2.6" fill="#0a0a0a" filter="url(#b1)"/>
<ellipse cx="243.2" cy="308.1" rx="3.3" ry="2.5" fill="#1e1e1e" filter="url(#b1)"/>
<ellipse cx="239.4" cy="304.6" rx="2.2" ry="2.0" fill="#050505" filter="url(#b1)"/>
<ellipse cx="209.6" cy="309.6" rx="2.7" ry="2.8" fill="#0a0a0a" filter="url(#b1)"/>
<ellipse cx="297.8" cy="307.0" rx="2.3" ry="1.9" fill="#0a0a0a" filter="url(#b1)"/>
<ellipse cx="206.1" cy="314.4" rx="3.3" ry="2.2" fill="#050505" filter="url(#b1)"/>
<ellipse cx="252.2" cy="305.1" rx="3.3" ry="2.6" fill="#0a0a0a" filter="url(#b1)"/>
<ellipse cx="267.9" cy="305.0" rx="2.9" ry="2.9" fill="#0a0a0a" filter="url(#b1)"/>
<ellipse cx="233.1" cy="309.8" rx="3.1" ry="2.0" fill="#050505" filter="url(#b1)"/>
<ellipse cx="278.1" cy="304.6" rx="2.9" ry="2.3" fill="#050505" filter="url(#b1)"/>
<ellipse cx="267.2" cy="304.8" rx="3.5" ry="2.7" fill="#1e1e1e" filter="url(#b1)"/>
<ellipse cx="249.5" cy="312.6" rx="3.4" ry="2.8" fill="#050505" filter="url(#b1)"/>
<ellipse cx="247.3" cy="308.6" rx="3.2" ry="2.3" fill="#0a0a0a" filter="url(#b1)"/>
<ellipse cx="208.6" cy="311.3" rx="2.2" ry="2.9" fill="#050505" filter="url(#b1)"/>
<ellipse cx="269.0" cy="308.7" rx="2.9" ry="2.0" fill="#050505" filter="url(#b1)"/>
<ellipse cx="290.4" cy="314.7" rx="2.2" ry="2.8" fill="#1e1e1e" filter="url(#b1)"/>
<ellipse cx="211.9" cy="309.9" rx="2.4" ry="2.8" fill="#1e1e1e" filter="url(#b1)"/>
<ellipse cx="284.4" cy="313.4" rx="2.6" ry="2.8" fill="#050505" filter="url(#b1)"/>
<ellipse cx="271.8" cy="313.3" rx="3.0" ry="2.1" fill="#0a0a0a" filter="url(#b1)"/>
<polygon points="290.0,304.0 320.0,303.0 320.0,315.0 290.0,315.0" fill="#2c2c2c" filter="url(#b2)"/>
<polygon points="196.0,303.0 200.8,303.0 200.8,332.0 196.0,332.0" fill="#111" filter="url(#b1)"/>
<polygon points="201.5,318.0 204.0,318.0 204.0,332.0 201.5,332.0" fill="#9a9a9a" filter="url(#b1)"/>
<ellipse cx="207" cy="322" rx="2.3" ry="8" fill="#141414" filter="url(#b1)"/>
<polygon points="208.0,316.5 320.0,315.5 320.0,321.0 208.0,322.0" fill="#939393" filter="url(#b2)"/>
<polygon points="208.0,323.5 320.0,322.0 320.0,333.0 208.0,333.0" fill="#d4d4d4" filter="url(#b2)"/>
</g></g></g>
<clipPath id="cD1"><rect x="295.2" y="406.0" width="95.7" height="87.1"/></clipPath>
<g clip-path="url(#cD1)">
<rect x="295.2" y="406.0" width="95.7" height="87.1" fill="#f9f9f9"/>
<g filter="url(#blur)">
<clipPath id="eD1"><polygon points="294.0,449.0 299.0,449.5 304.0,447.5 308.0,446.0 312.0,443.5 316.0,441.5 321.8,439.5 325.7,437.0 331.5,439.0 336.0,436.0 339.2,435.5 344.0,437.5 346.8,436.7 350.0,435.0 352.6,434.8 356.0,436.5 360.3,435.7 366.0,435.0 370.0,434.8 373.8,430.5 377.0,433.0 379.5,434.8 385.0,436.0 389.2,436.7 392.0,436.7 392.0,469.4 380.0,476.0 370.0,481.0 360.0,485.0 350.0,489.0 343.0,493.0 343.0,495.0 294.0,495.0"/></clipPath>
<polygon points="294.0,449.0 299.0,449.5 304.0,447.5 308.0,446.0 312.0,443.5 316.0,441.5 321.8,439.5 325.7,437.0 331.5,439.0 336.0,436.0 339.2,435.5 344.0,437.5 346.8,436.7 350.0,435.0 352.6,434.8 356.0,436.5 360.3,435.7 366.0,435.0 370.0,434.8 373.8,430.5 377.0,433.0 379.5,434.8 385.0,436.0 389.2,436.7 392.0,436.7 392.0,469.4 380.0,476.0 370.0,481.0 360.0,485.0 350.0,489.0 343.0,493.0 343.0,495.0 294.0,495.0" fill="#cdcdcd"/>
<g clip-path="url(#eD1)">
<ellipse cx="302.5" cy="440.5" rx="2" ry="1.6" fill="#d8d8d8" filter="url(#b1)"/>
<ellipse cx="326" cy="434" rx="1.8" ry="1.5" fill="#d8d8d8" filter="url(#b1)"/>
<polygon points="294.0,458.0 315.0,453.0 330.0,446.0 350.0,442.0 392.0,440.0 392.0,466.0 370.0,471.0 355.0,477.0 345.0,485.0 338.0,495.0 294.0,495.0" fill="#b4b4b4" filter="url(#b3)"/>
<ellipse cx="319.6" cy="471.6" rx="2.9" ry="4.1" fill="#b8b8b8" filter="url(#b2)"/>
<ellipse cx="374.4" cy="454.8" rx="4.7" ry="3.5" fill="#8c8c8c" filter="url(#b2)"/>
<ellipse cx="365.0" cy="464.2" rx="4.1" ry="3.6" fill="#a8a8a8" filter="url(#b2)"/>
<ellipse cx="333.0" cy="458.9" rx="4.2" ry="2.3" fill="#9a9a9a" filter="url(#b2)"/>
<ellipse cx="299.6" cy="463.5" rx="3.7" ry="4.1" fill="#b8b8b8" filter="url(#b2)"/>
<ellipse cx="329.3" cy="464.9" rx="3.6" ry="4.0" fill="#b8b8b8" filter="url(#b2)"/>
<ellipse cx="368.1" cy="448.8" rx="4.9" ry="2.6" fill="#9a9a9a" filter="url(#b2)"/>
<ellipse cx="381.3" cy="472.3" rx="4.6" ry="4.1" fill="#9a9a9a" filter="url(#b2)"/>
<ellipse cx="313.3" cy="487.5" rx="3.7" ry="2.3" fill="#8c8c8c" filter="url(#b2)"/>
<ellipse cx="383.7" cy="469.8" rx="4.9" ry="3.1" fill="#8c8c8c" filter="url(#b2)"/>
<ellipse cx="381.1" cy="461.6" rx="2.9" ry="3.1" fill="#8c8c8c" filter="url(#b2)"/>
<ellipse cx="343.1" cy="466.7" rx="3.6" ry="2.3" fill="#8c8c8c" filter="url(#b2)"/>
<ellipse cx="374.2" cy="469.0" rx="5.0" ry="4.3" fill="#9a9a9a" filter="url(#b2)"/>
<ellipse cx="345.7" cy="476.7" rx="4.8" ry="4.1" fill="#9a9a9a" filter="url(#b2)"/>
<ellipse cx="327.5" cy="472.4" rx="4.7" ry="4.2" fill="#8c8c8c" filter="url(#b2)"/>
<ellipse cx="349.1" cy="477.4" rx="3.1" ry="3.9" fill="#8c8c8c" filter="url(#b2)"/>
<ellipse cx="316.8" cy="487.3" rx="2.6" ry="3.3" fill="#8c8c8c" filter="url(#b2)"/>
<ellipse cx="388.3" cy="460.4" rx="4.7" ry="2.9" fill="#8c8c8c" filter="url(#b2)"/>
<ellipse cx="369.5" cy="463.5" rx="4.7" ry="4.2" fill="#b8b8b8" filter="url(#b2)"/>
<ellipse cx="307.5" cy="470.3" rx="4.9" ry="2.3" fill="#b8b8b8" filter="url(#b2)"/>
<ellipse cx="360.0" cy="470.5" rx="3.9" ry="3.4" fill="#a8a8a8" filter="url(#b2)"/>
<ellipse cx="350.8" cy="468.0" rx="3.6" ry="3.3" fill="#8c8c8c" filter="url(#b2)"/>
<ellipse cx="298.6" cy="480.6" rx="3.2" ry="4.0" fill="#8c8c8c" filter="url(#b2)"/>
<ellipse cx="334.5" cy="481.1" rx="3.5" ry="3.0" fill="#a8a8a8" filter="url(#b2)"/>
<ellipse cx="348.4" cy="462.1" rx="4.4" ry="3.0" fill="#9a9a9a" filter="url(#b2)"/>
<ellipse cx="297.5" cy="459.3" rx="4.7" ry="2.7" fill="#8c8c8c" filter="url(#b2)"/>
<ellipse cx="321.3" cy="467.9" rx="3.9" ry="4.1" fill="#a8a8a8" filter="url(#b2)"/>
<ellipse cx="300.1" cy="465.7" rx="4.8" ry="2.9" fill="#8c8c8c" filter="url(#b2)"/>
<ellipse cx="303.7" cy="471.0" rx="3.8" ry="4.0" fill="#b8b8b8" filter="url(#b2)"/>
<ellipse cx="329.4" cy="485.0" rx="2.7" ry="3.3" fill="#9a9a9a" filter="url(#b2)"/>
<ellipse cx="319.4" cy="480.4" rx="3.0" ry="4.1" fill="#9a9a9a" filter="url(#b2)"/>
<ellipse cx="379.1" cy="471.7" rx="4.3" ry="2.3" fill="#b8b8b8" filter="url(#b2)"/>
<ellipse cx="389.1" cy="465.1" rx="3.7" ry="2.6" fill="#8c8c8c" filter="url(#b2)"/>
<ellipse cx="335.9" cy="466.7" rx="2.6" ry="3.3" fill="#8c8c8c" filter="url(#b2)"/>
<ellipse cx="304.0" cy="487.5" rx="2.8" ry="3.4" fill="#b8b8b8" filter="url(#b2)"/>
<polygon points="294.0,463.0 310.0,461.0 322.0,456.0 334.0,449.0 345.0,446.0 392.0,443.0 392.0,459.0 365.0,461.0 345.0,464.0 332.0,472.0 322.0,482.0 310.0,488.0 294.0,490.0" fill="#707070" filter="url(#b3)"/>
<polygon points="296.0,467.0 310.0,464.0 322.0,460.0 334.0,455.0 334.0,470.0 326.0,482.0 312.0,488.0 296.0,489.0" fill="#3e3e3e" filter="url(#b3)"/>
<polygon points="318.0,458.0 330.0,451.0 345.0,446.0 392.0,443.0 392.0,459.0 350.0,460.0 335.0,463.0 322.0,466.0" fill="#333333" filter="url(#b3)"/>
<polygon points="332.0,451.0 348.0,446.0 370.0,444.0 392.0,443.5 392.0,458.0 370.0,458.5 350.0,459.0 334.0,459.0" fill="#0e0e0e" filter="url(#b2)"/>
<ellipse cx="314.7" cy="483.8" rx="2.9" ry="3.1" fill="#3a3a3a" filter="url(#b2)"/>
<ellipse cx="312.1" cy="480.7" rx="3.5" ry="3.3" fill="#2a2a2a" filter="url(#b2)"/>
<ellipse cx="322.6" cy="485.6" rx="2.7" ry="2.0" fill="#3a3a3a" filter="url(#b2)"/>
<ellipse cx="299.5" cy="466.9" rx="2.5" ry="2.2" fill="#2a2a2a" filter="url(#b2)"/>
<ellipse cx="301.7" cy="476.2" rx="3.3" ry="2.4" fill="#3a3a3a" filter="url(#b2)"/>
<ellipse cx="308.9" cy="484.8" rx="2.7" ry="2.1" fill="#3a3a3a" filter="url(#b2)"/>
<ellipse cx="312.9" cy="473.7" rx="4.0" ry="3.0" fill="#2a2a2a" filter="url(#b2)"/>
<ellipse cx="318.5" cy="474.9" rx="3.6" ry="2.2" fill="#555" filter="url(#b2)"/>
<ellipse cx="314.0" cy="482.8" rx="3.8" ry="1.9" fill="#3a3a3a" filter="url(#b2)"/>
<ellipse cx="300.6" cy="484.5" rx="3.5" ry="3.5" fill="#3a3a3a" filter="url(#b2)"/>
<ellipse cx="306.9" cy="470.7" rx="2.8" ry="2.1" fill="#2a2a2a" filter="url(#b2)"/>
<ellipse cx="303.4" cy="476.7" rx="3.3" ry="3.0" fill="#555" filter="url(#b2)"/>
<polygon points="345.0,468.0 370.0,463.0 392.0,462.0 392.0,470.0 370.0,478.0 350.0,486.0" fill="#c0c0c0" filter="url(#b3)"/>
<ellipse cx="370" cy="474" rx="3.5" ry="2.0" fill="#f0f0f0" filter="url(#b1)"/>
<ellipse cx="380" cy="471" rx="3.0" ry="1.8" fill="#f0f0f0" filter="url(#b1)"/>
<polygon points="295.0,464.0 298.0,464.0 298.0,491.0 295.0,491.0" fill="#111" filter="url(#b1)"/>
<polygon points="299.0,487.5 343.0,487.5 343.0,494.0 299.0,494.0" fill="#c8c8c8" filter="url(#b1)"/>
</g></g></g>
<clipPath id="cD2"><rect x="421.6" y="405.9" width="92.0" height="88.7"/></clipPath>
<g clip-path="url(#cD2)">
<rect x="421.6" y="405.9" width="92.0" height="88.7" fill="#f9f9f9"/>
<g filter="url(#blur)">
<clipPath id="eD2"><polygon points="421.0,435.0 425.0,436.5 430.3,437.8 436.0,437.5 441.6,436.9 447.0,435.0 453.0,433.1 458.0,434.5 464.3,435.0 468.0,434.0 471.8,433.1 477.0,434.5 483.2,435.0 489.0,433.0 494.5,430.3 499.0,431.5 504.0,432.2 508.0,431.0 512.4,430.3 515.0,430.3 515.0,462.4 505.0,468.0 495.0,474.0 485.0,480.0 475.0,486.0 468.0,491.0 464.0,496.0 421.0,496.0"/></clipPath>
<polygon points="421.0,435.0 425.0,436.5 430.3,437.8 436.0,437.5 441.6,436.9 447.0,435.0 453.0,433.1 458.0,434.5 464.3,435.0 468.0,434.0 471.8,433.1 477.0,434.5 483.2,435.0 489.0,433.0 494.5,430.3 499.0,431.5 504.0,432.2 508.0,431.0 512.4,430.3 515.0,430.3 515.0,462.4 505.0,468.0 495.0,474.0 485.0,480.0 475.0,486.0 468.0,491.0 464.0,496.0 421.0,496.0" fill="#cdcdcd"/>
<g clip-path="url(#eD2)">
<polygon points="421.0,446.0 440.0,445.0 460.0,442.0 480.0,437.0 515.0,434.0 515.0,464.0 495.0,467.0 480.0,475.0 470.0,485.0 465.0,496.0 421.0,496.0" fill="#b6b6b6" filter="url(#b3)"/>
<ellipse cx="467.5" cy="466.6" rx="4.5" ry="3.0" fill="#a8a8a8" filter="url(#b2)"/>
<ellipse cx="494.7" cy="442.8" rx="3.4" ry="2.4" fill="#8c8c8c" filter="url(#b2)"/>
<ellipse cx="453.0" cy="450.0" rx="4.1" ry="4.3" fill="#9c9c9c" filter="url(#b2)"/>
<ellipse cx="479.9" cy="454.9" rx="3.6" ry="2.6" fill="#8c8c8c" filter="url(#b2)"/>
<ellipse cx="450.1" cy="456.0" rx="5.0" ry="3.0" fill="#a8a8a8" filter="url(#b2)"/>
<ellipse cx="478.4" cy="471.5" rx="4.1" ry="2.7" fill="#a8a8a8" filter="url(#b2)"/>
<ellipse cx="460.9" cy="453.1" rx="3.0" ry="3.5" fill="#8c8c8c" filter="url(#b2)"/>
<ellipse cx="425.2" cy="460.5" rx="4.6" ry="4.5" fill="#8c8c8c" filter="url(#b2)"/>
<ellipse cx="439.7" cy="464.4" rx="4.3" ry="3.1" fill="#9c9c9c" filter="url(#b2)"/>
<ellipse cx="478.7" cy="465.8" rx="2.6" ry="3.3" fill="#8c8c8c" filter="url(#b2)"/>
<ellipse cx="502.5" cy="447.2" rx="2.7" ry="3.4" fill="#a8a8a8" filter="url(#b2)"/>
<ellipse cx="481.2" cy="465.5" rx="3.5" ry="4.4" fill="#a8a8a8" filter="url(#b2)"/>
<ellipse cx="488.8" cy="466.2" rx="4.6" ry="4.3" fill="#8c8c8c" filter="url(#b2)"/>
<ellipse cx="507.1" cy="443.9" rx="2.8" ry="2.7" fill="#b8b8b8" filter="url(#b2)"/>
<ellipse cx="434.9" cy="443.1" rx="3.5" ry="3.7" fill="#a8a8a8" filter="url(#b2)"/>
<ellipse cx="498.0" cy="458.5" rx="3.5" ry="3.3" fill="#a8a8a8" filter="url(#b2)"/>
<ellipse cx="499.9" cy="447.1" rx="2.9" ry="3.3" fill="#a8a8a8" filter="url(#b2)"/>
<ellipse cx="502.9" cy="467.4" rx="4.0" ry="2.5" fill="#b8b8b8" filter="url(#b2)"/>
<ellipse cx="436.5" cy="447.2" rx="2.9" ry="4.2" fill="#8c8c8c" filter="url(#b2)"/>
<ellipse cx="448.6" cy="453.2" rx="3.7" ry="4.3" fill="#8c8c8c" filter="url(#b2)"/>
<ellipse cx="492.9" cy="464.9" rx="3.8" ry="2.4" fill="#9c9c9c" filter="url(#b2)"/>
<ellipse cx="494.9" cy="468.4" rx="4.1" ry="4.0" fill="#8c8c8c" filter="url(#b2)"/>
<ellipse cx="441.6" cy="448.3" rx="4.1" ry="3.6" fill="#9c9c9c" filter="url(#b2)"/>
<ellipse cx="466.9" cy="484.5" rx="4.7" ry="3.0" fill="#a8a8a8" filter="url(#b2)"/>
<ellipse cx="506.5" cy="453.6" rx="3.2" ry="2.6" fill="#a8a8a8" filter="url(#b2)"/>
<ellipse cx="481.2" cy="465.1" rx="4.9" ry="3.7" fill="#a8a8a8" filter="url(#b2)"/>
<ellipse cx="440.1" cy="469.7" rx="4.9" ry="2.8" fill="#8c8c8c" filter="url(#b2)"/>
<ellipse cx="491.4" cy="446.8" rx="4.8" ry="2.6" fill="#a8a8a8" filter="url(#b2)"/>
<ellipse cx="489.2" cy="457.0" rx="3.9" ry="3.6" fill="#9c9c9c" filter="url(#b2)"/>
<ellipse cx="477.9" cy="461.8" rx="3.2" ry="2.7" fill="#8c8c8c" filter="url(#b2)"/>
<ellipse cx="435.0" cy="473.0" rx="4.5" ry="4.2" fill="#8c8c8c" filter="url(#b2)"/>
<ellipse cx="464.3" cy="449.0" rx="4.4" ry="2.4" fill="#9c9c9c" filter="url(#b2)"/>
<ellipse cx="473.3" cy="463.4" rx="3.8" ry="2.9" fill="#8c8c8c" filter="url(#b2)"/>
<ellipse cx="449.2" cy="443.5" rx="4.0" ry="4.0" fill="#a8a8a8" filter="url(#b2)"/>
<ellipse cx="442.9" cy="465.0" rx="3.3" ry="3.1" fill="#a8a8a8" filter="url(#b2)"/>
<polygon points="421.0,456.0 440.0,454.0 455.0,451.0 468.0,448.0 490.0,444.0 515.0,441.0 515.0,459.0 495.0,461.0 478.0,464.0 465.0,470.0 452.0,480.0 445.0,494.0 421.0,494.0" fill="#7a7a7a" filter="url(#b3)"/>
<polygon points="423.0,463.0 440.0,460.0 455.0,458.0 462.0,462.0 458.0,474.0 448.0,486.0 436.0,490.0 423.0,490.0" fill="#555555" filter="url(#b3)"/>
<ellipse cx="440.0" cy="470.2" rx="3.8" ry="2.7" fill="#2e2e2e" filter="url(#b2)"/>
<ellipse cx="437.9" cy="464.2" rx="3.3" ry="2.3" fill="#3c3c3c" filter="url(#b2)"/>
<ellipse cx="454.3" cy="479.1" rx="2.4" ry="3.3" fill="#6a6a6a" filter="url(#b2)"/>
<ellipse cx="435.8" cy="469.7" rx="3.3" ry="3.6" fill="#6a6a6a" filter="url(#b2)"/>
<ellipse cx="432.2" cy="479.2" rx="2.9" ry="2.9" fill="#777" filter="url(#b2)"/>
<ellipse cx="449.2" cy="465.0" rx="2.1" ry="3.6" fill="#3c3c3c" filter="url(#b2)"/>
<ellipse cx="451.1" cy="487.9" rx="2.0" ry="3.5" fill="#6a6a6a" filter="url(#b2)"/>
<ellipse cx="446.0" cy="488.0" rx="2.8" ry="2.6" fill="#3c3c3c" filter="url(#b2)"/>
<ellipse cx="426.2" cy="463.4" rx="2.8" ry="2.3" fill="#2e2e2e" filter="url(#b2)"/>
<ellipse cx="431.2" cy="468.3" rx="3.9" ry="3.3" fill="#777" filter="url(#b2)"/>
<ellipse cx="429.7" cy="485.4" rx="3.7" ry="3.2" fill="#6a6a6a" filter="url(#b2)"/>
<ellipse cx="438.5" cy="471.5" rx="3.1" ry="2.3" fill="#2e2e2e" filter="url(#b2)"/>
<ellipse cx="457.2" cy="489.9" rx="2.3" ry="2.5" fill="#6a6a6a" filter="url(#b2)"/>
<ellipse cx="435.1" cy="475.8" rx="2.1" ry="2.5" fill="#6a6a6a" filter="url(#b2)"/>
<ellipse cx="452.9" cy="487.2" rx="3.6" ry="2.7" fill="#3c3c3c" filter="url(#b2)"/>
<ellipse cx="427.7" cy="484.5" rx="2.1" ry="2.4" fill="#2e2e2e" filter="url(#b2)"/>
<polygon points="455.0,458.0 466.0,451.0 480.0,446.0 515.0,443.0 515.0,458.0 485.0,459.0 470.0,461.0 460.0,465.0" fill="#3a3a3a" filter="url(#b3)"/>
<polygon points="462.0,452.0 474.0,448.0 490.0,445.5 515.0,443.5 515.0,456.0 495.0,457.0 480.0,458.5 466.0,459.0" fill="#0e0e0e" filter="url(#b2)"/>
<polygon points="468.0,466.0 490.0,462.0 515.0,461.0 515.0,464.0 495.0,474.0 475.0,486.0" fill="#c2c2c2" filter="url(#b3)"/>
<ellipse cx="496" cy="467" rx="3.0" ry="1.8" fill="#f0f0f0" filter="url(#b1)"/>
<polygon points="421.6,462.0 424.5,462.0 424.5,494.0 421.6,494.0" fill="#111" filter="url(#b1)"/>
<polygon points="426.0,489.5 462.0,489.5 462.0,495.0 426.0,495.0" fill="#c4c4c4" filter="url(#b1)"/>
</g></g></g>
<path d="M30.7,42.8H149.9V152.5" fill="none" stroke="#666" stroke-width="1.3"/>
<path d="M30.7,42.2V152.5H150.5" fill="none" stroke="#111" stroke-width="1.4"/>
<path d="M30.7,152.5v3.0 M35.3,152.5v1.5 M39.9,152.5v1.5 M44.5,152.5v1.5 M49.1,152.5v1.5 M53.7,152.5v3.0 M58.3,152.5v1.5 M62.9,152.5v1.5 M67.5,152.5v1.5 M72.1,152.5v1.5 M76.7,152.5v3.0 M81.3,152.5v1.5 M85.9,152.5v1.5 M90.5,152.5v1.5 M95.1,152.5v1.5 M99.7,152.5v3.0 M104.3,152.5v1.5 M108.9,152.5v1.5 M113.5,152.5v1.5 M118.1,152.5v1.5 M122.7,152.5v3.0 M127.3,152.5v1.5 M131.9,152.5v1.5 M136.5,152.5v1.5 M141.1,152.5v1.5 M145.7,152.5v3.0" stroke="#111" stroke-width="0.9"/>
<path d="M30.7,152.5h-2.4 M30.7,144.2h-1.2 M30.7,139.4h-1.2 M30.7,136.0h-1.2 M30.7,133.3h-1.2 M30.7,131.2h-1.2 M30.7,129.3h-1.2 M30.7,127.7h-1.2 M30.7,126.3h-1.2 M30.7,125.1h-2.4 M30.7,116.8h-1.2 M30.7,112.0h-1.2 M30.7,108.6h-1.2 M30.7,105.9h-1.2 M30.7,103.7h-1.2 M30.7,101.9h-1.2 M30.7,100.3h-1.2 M30.7,98.9h-1.2 M30.7,97.7h-2.4 M30.7,89.4h-1.2 M30.7,84.6h-1.2 M30.7,81.1h-1.2 M30.7,78.5h-1.2 M30.7,76.3h-1.2 M30.7,74.5h-1.2 M30.7,72.9h-1.2 M30.7,71.5h-1.2 M30.7,70.2h-2.4 M30.7,62.0h-1.2 M30.7,57.1h-1.2 M30.7,53.7h-1.2 M30.7,51.1h-1.2 M30.7,48.9h-1.2 M30.7,47.0h-1.2 M30.7,45.5h-1.2 M30.7,44.1h-1.2" stroke="#111" stroke-width="0.8"/>
<path d="M189.9,39.5H308.9V151.7" fill="none" stroke="#666" stroke-width="1.3"/>
<path d="M189.9,38.9V151.7H309.5" fill="none" stroke="#111" stroke-width="1.4"/>
<path d="M189.9,151.7v3.0 M194.5,151.7v1.5 M199.1,151.7v1.5 M203.7,151.7v1.5 M208.3,151.7v1.5 M212.9,151.7v3.0 M217.5,151.7v1.5 M222.1,151.7v1.5 M226.6,151.7v1.5 M231.2,151.7v1.5 M235.8,151.7v3.0 M240.4,151.7v1.5 M245.0,151.7v1.5 M249.6,151.7v1.5 M254.2,151.7v1.5 M258.8,151.7v3.0 M263.4,151.7v1.5 M268.0,151.7v1.5 M272.6,151.7v1.5 M277.2,151.7v1.5 M281.8,151.7v3.0 M286.4,151.7v1.5 M291.0,151.7v1.5 M295.5,151.7v1.5 M300.1,151.7v1.5 M304.7,151.7v3.0" stroke="#111" stroke-width="0.9"/>
<path d="M189.9,151.7h-2.4 M189.9,143.3h-1.2 M189.9,138.3h-1.2 M189.9,134.8h-1.2 M189.9,132.1h-1.2 M189.9,129.9h-1.2 M189.9,128.0h-1.2 M189.9,126.4h-1.2 M189.9,124.9h-1.2 M189.9,123.6h-2.4 M189.9,115.2h-1.2 M189.9,110.3h-1.2 M189.9,106.8h-1.2 M189.9,104.0h-1.2 M189.9,101.8h-1.2 M189.9,99.9h-1.2 M189.9,98.3h-1.2 M189.9,96.9h-1.2 M189.9,95.6h-2.4 M189.9,87.2h-1.2 M189.9,82.2h-1.2 M189.9,78.7h-1.2 M189.9,76.0h-1.2 M189.9,73.8h-1.2 M189.9,71.9h-1.2 M189.9,70.3h-1.2 M189.9,68.8h-1.2 M189.9,67.5h-2.4 M189.9,59.1h-1.2 M189.9,54.2h-1.2 M189.9,50.7h-1.2 M189.9,47.9h-1.2 M189.9,45.7h-1.2 M189.9,43.8h-1.2 M189.9,42.2h-1.2 M189.9,40.8h-1.2" stroke="#111" stroke-width="0.8"/>
<path d="M29.0,224.4H151.3V332.3" fill="none" stroke="#666" stroke-width="1.3"/>
<path d="M29.0,223.8V332.3H151.9" fill="none" stroke="#111" stroke-width="1.4"/>
<path d="M29.0,332.3v3.0 M33.7,332.3v1.5 M38.4,332.3v1.5 M43.2,332.3v1.5 M47.9,332.3v1.5 M52.6,332.3v3.0 M57.3,332.3v1.5 M62.0,332.3v1.5 M66.8,332.3v1.5 M71.5,332.3v1.5 M76.2,332.3v3.0 M80.9,332.3v1.5 M85.6,332.3v1.5 M90.4,332.3v1.5 M95.1,332.3v1.5 M99.8,332.3v3.0 M104.5,332.3v1.5 M109.3,332.3v1.5 M114.0,332.3v1.5 M118.7,332.3v1.5 M123.4,332.3v3.0 M128.1,332.3v1.5 M132.9,332.3v1.5 M137.6,332.3v1.5 M142.3,332.3v1.5 M147.0,332.3v3.0" stroke="#111" stroke-width="0.9"/>
<path d="M29.0,332.3h-2.4 M29.0,324.2h-1.2 M29.0,319.4h-1.2 M29.0,316.1h-1.2 M29.0,313.4h-1.2 M29.0,311.3h-1.2 M29.0,309.5h-1.2 M29.0,307.9h-1.2 M29.0,306.6h-1.2 M29.0,305.3h-2.4 M29.0,297.2h-1.2 M29.0,292.5h-1.2 M29.0,289.1h-1.2 M29.0,286.5h-1.2 M29.0,284.3h-1.2 M29.0,282.5h-1.2 M29.0,281.0h-1.2 M29.0,279.6h-1.2 M29.0,278.4h-2.4 M29.0,270.2h-1.2 M29.0,265.5h-1.2 M29.0,262.1h-1.2 M29.0,259.5h-1.2 M29.0,257.4h-1.2 M29.0,255.6h-1.2 M29.0,254.0h-1.2 M29.0,252.6h-1.2 M29.0,251.4h-2.4 M29.0,243.3h-1.2 M29.0,238.5h-1.2 M29.0,235.1h-1.2 M29.0,232.5h-1.2 M29.0,230.4h-1.2 M29.0,228.6h-1.2 M29.0,227.0h-1.2 M29.0,225.6h-1.2" stroke="#111" stroke-width="0.8"/>
<path d="M196.2,222.2H318.9V331.2" fill="none" stroke="#666" stroke-width="1.3"/>
<path d="M196.2,221.6V331.2H319.5" fill="none" stroke="#111" stroke-width="1.4"/>
<path d="M196.2,331.2v3.0 M200.9,331.2v1.5 M205.7,331.2v1.5 M210.4,331.2v1.5 M215.1,331.2v1.5 M219.9,331.2v3.0 M224.6,331.2v1.5 M229.4,331.2v1.5 M234.1,331.2v1.5 M238.8,331.2v1.5 M243.6,331.2v3.0 M248.3,331.2v1.5 M253.0,331.2v1.5 M257.8,331.2v1.5 M262.5,331.2v1.5 M267.2,331.2v3.0 M272.0,331.2v1.5 M276.7,331.2v1.5 M281.5,331.2v1.5 M286.2,331.2v1.5 M290.9,331.2v3.0 M295.7,331.2v1.5 M300.4,331.2v1.5 M305.1,331.2v1.5 M309.9,331.2v1.5 M314.6,331.2v3.0" stroke="#111" stroke-width="0.9"/>
<path d="M196.2,331.2h-2.4 M196.2,323.0h-1.2 M196.2,318.2h-1.2 M196.2,314.8h-1.2 M196.2,312.2h-1.2 M196.2,310.0h-1.2 M196.2,308.2h-1.2 M196.2,306.6h-1.2 M196.2,305.2h-1.2 M196.2,303.9h-2.4 M196.2,295.7h-1.2 M196.2,290.9h-1.2 M196.2,287.5h-1.2 M196.2,284.9h-1.2 M196.2,282.7h-1.2 M196.2,280.9h-1.2 M196.2,279.3h-1.2 M196.2,277.9h-1.2 M196.2,276.7h-2.4 M196.2,268.5h-1.2 M196.2,263.7h-1.2 M196.2,260.3h-1.2 M196.2,257.7h-1.2 M196.2,255.5h-1.2 M196.2,253.7h-1.2 M196.2,252.1h-1.2 M196.2,250.7h-1.2 M196.2,249.4h-2.4 M196.2,241.2h-1.2 M196.2,236.4h-1.2 M196.2,233.0h-1.2 M196.2,230.4h-1.2 M196.2,228.2h-1.2 M196.2,226.4h-1.2 M196.2,224.8h-1.2 M196.2,223.4h-1.2" stroke="#111" stroke-width="0.8"/>
<path d="M295.2,406.0H390.9V493.1" fill="none" stroke="#666" stroke-width="1.3"/>
<path d="M295.2,405.4V493.1H391.5" fill="none" stroke="#111" stroke-width="1.4"/>
<path d="M295.2,493.1v3.0 M298.9,493.1v1.5 M302.6,493.1v1.5 M306.3,493.1v1.5 M310.0,493.1v1.5 M313.7,493.1v3.0 M317.4,493.1v1.5 M321.1,493.1v1.5 M324.8,493.1v1.5 M328.4,493.1v1.5 M332.1,493.1v3.0 M335.8,493.1v1.5 M339.5,493.1v1.5 M343.2,493.1v1.5 M346.9,493.1v1.5 M350.6,493.1v3.0 M354.3,493.1v1.5 M358.0,493.1v1.5 M361.7,493.1v1.5 M365.4,493.1v1.5 M369.1,493.1v3.0 M372.8,493.1v1.5 M376.5,493.1v1.5 M380.2,493.1v1.5 M383.9,493.1v1.5 M387.6,493.1v3.0" stroke="#111" stroke-width="0.9"/>
<path d="M295.2,493.1h-2.4 M295.2,486.5h-1.2 M295.2,482.7h-1.2 M295.2,480.0h-1.2 M295.2,477.9h-1.2 M295.2,476.2h-1.2 M295.2,474.7h-1.2 M295.2,473.4h-1.2 M295.2,472.3h-1.2 M295.2,471.3h-2.4 M295.2,464.8h-1.2 M295.2,460.9h-1.2 M295.2,458.2h-1.2 M295.2,456.1h-1.2 M295.2,454.4h-1.2 M295.2,452.9h-1.2 M295.2,451.7h-1.2 M295.2,450.5h-1.2 M295.2,449.6h-2.4 M295.2,443.0h-1.2 M295.2,439.2h-1.2 M295.2,436.4h-1.2 M295.2,434.3h-1.2 M295.2,432.6h-1.2 M295.2,431.1h-1.2 M295.2,429.9h-1.2 M295.2,428.8h-1.2 M295.2,427.8h-2.4 M295.2,421.2h-1.2 M295.2,417.4h-1.2 M295.2,414.7h-1.2 M295.2,412.6h-1.2 M295.2,410.8h-1.2 M295.2,409.4h-1.2 M295.2,408.1h-1.2 M295.2,407.0h-1.2" stroke="#111" stroke-width="0.8"/>
<path d="M421.6,405.9H513.6V494.6" fill="none" stroke="#666" stroke-width="1.3"/>
<path d="M421.6,405.3V494.6H514.2" fill="none" stroke="#111" stroke-width="1.4"/>
<path d="M421.6,494.6v3.0 M425.2,494.6v1.5 M428.7,494.6v1.5 M432.3,494.6v1.5 M435.8,494.6v1.5 M439.4,494.6v3.0 M442.9,494.6v1.5 M446.5,494.6v1.5 M450.0,494.6v1.5 M453.6,494.6v1.5 M457.1,494.6v3.0 M460.7,494.6v1.5 M464.2,494.6v1.5 M467.8,494.6v1.5 M471.3,494.6v1.5 M474.9,494.6v3.0 M478.4,494.6v1.5 M482.0,494.6v1.5 M485.5,494.6v1.5 M489.1,494.6v1.5 M492.6,494.6v3.0 M496.2,494.6v1.5 M499.7,494.6v1.5 M503.3,494.6v1.5 M506.8,494.6v1.5 M510.4,494.6v3.0" stroke="#111" stroke-width="0.9"/>
<path d="M421.6,494.6h-2.4 M421.6,487.9h-1.2 M421.6,484.0h-1.2 M421.6,481.2h-1.2 M421.6,479.1h-1.2 M421.6,477.3h-1.2 M421.6,475.9h-1.2 M421.6,474.6h-1.2 M421.6,473.4h-1.2 M421.6,472.4h-2.4 M421.6,465.7h-1.2 M421.6,461.8h-1.2 M421.6,459.1h-1.2 M421.6,456.9h-1.2 M421.6,455.2h-1.2 M421.6,453.7h-1.2 M421.6,452.4h-1.2 M421.6,451.3h-1.2 M421.6,450.2h-2.4 M421.6,443.6h-1.2 M421.6,439.7h-1.2 M421.6,436.9h-1.2 M421.6,434.8h-1.2 M421.6,433.0h-1.2 M421.6,431.5h-1.2 M421.6,430.2h-1.2 M421.6,429.1h-1.2 M421.6,428.1h-2.4 M421.6,421.4h-1.2 M421.6,417.5h-1.2 M421.6,414.7h-1.2 M421.6,412.6h-1.2 M421.6,410.8h-1.2 M421.6,409.3h-1.2 M421.6,408.0h-1.2 M421.6,406.9h-1.2" stroke="#111" stroke-width="0.8"/>
<path d="M367.3,40.6H483.7V152.2" fill="none" stroke="#666" stroke-width="1.3"/>
<path d="M367.3,40.0V152.2" fill="none" stroke="#222" stroke-width="1.15"/>
<path d="M366.8,152.2H484.3" fill="none" stroke="#111" stroke-width="1.3"/>
<path d="M366.0,146.9h2.6 M366.0,141.6h2.6 M366.0,136.4h2.6 M366.0,131.1h2.6 M366.0,125.8h2.6 M366.0,120.5h2.6 M366.0,115.3h2.6 M366.0,110.0h2.6 M366.0,104.7h2.6 M366.0,99.4h2.6 M366.0,94.2h2.6 M366.0,88.9h2.6 M366.0,83.6h2.6 M366.0,78.3h2.6 M366.0,73.1h2.6 M366.0,67.8h2.6 M366.0,62.5h2.6 M366.0,57.2h2.6 M366.0,52.0h2.6 M366.0,46.7h2.6" stroke="#333" stroke-width="0.8"/>
<path d="M367.3,152.2v4.5 M373.0,152.2v2.6 M378.6,152.2v2.6 M384.3,152.2v2.6 M390.0,152.2v4.5 M395.7,152.2v2.6 M401.3,152.2v2.6 M407.0,152.2v2.6 M412.7,152.2v4.5 M418.4,152.2v2.6 M424.0,152.2v2.6 M429.7,152.2v2.6 M435.4,152.2v4.5 M441.1,152.2v2.6 M446.7,152.2v2.6 M452.4,152.2v2.6 M458.1,152.2v4.5 M463.8,152.2v2.6 M469.4,152.2v2.6 M475.1,152.2v2.6 M480.8,152.2v4.5" stroke="#111" stroke-width="0.9"/>
<path d="M367.3,130.4h-2.4 M367.3,109.3h-2.4 M367.3,88.2h-2.4 M367.3,67.1h-2.4 M367.3,46.0h-2.4" stroke="#111" stroke-width="0.9"/>
<path d="M367.0,220.8H487.0V330.8" fill="none" stroke="#666" stroke-width="1.3"/>
<path d="M367.0,220.2V330.8" fill="none" stroke="#222" stroke-width="1.15"/>
<path d="M366.5,330.8H487.6" fill="none" stroke="#111" stroke-width="1.3"/>
<path d="M365.7,322.9h2.6 M365.7,315.1h2.6 M365.7,307.2h2.6 M365.7,299.3h2.6 M365.7,291.4h2.6 M365.7,283.6h2.6 M365.7,275.7h2.6 M365.7,267.8h2.6 M365.7,259.9h2.6 M365.7,252.1h2.6 M365.7,244.2h2.6 M365.7,236.3h2.6 M365.7,228.4h2.6" stroke="#333" stroke-width="0.8"/>
<path d="M367.0,330.8v4.5 M372.9,330.8v2.6 M378.7,330.8v2.6 M384.6,330.8v2.6 M390.4,330.8v4.5 M396.2,330.8v2.6 M402.1,330.8v2.6 M407.9,330.8v2.6 M413.8,330.8v4.5 M419.6,330.8v2.6 M425.5,330.8v2.6 M431.4,330.8v2.6 M437.2,330.8v4.5 M443.1,330.8v2.6 M448.9,330.8v2.6 M454.8,330.8v2.6 M460.6,330.8v4.5 M466.4,330.8v2.6 M472.3,330.8v2.6 M478.1,330.8v2.6 M484.0,330.8v4.5" stroke="#111" stroke-width="0.9"/>
<path d="M367.0,315.0h-1.2 M367.0,299.2h-2.4 M367.0,283.4h-1.2 M367.0,267.6h-2.4 M367.0,251.8h-1.2 M367.0,236.0h-2.4" stroke="#111" stroke-width="0.9"/>
<path d="M368.4,142.5 L369.7,146.6 L371.0,144.2 L372.3,147.6 L373.6,145.1 L374.9,147.8 L376.2,146.8 L377.5,145.8 L378.8,144.2 L380.1,145.8 L381.4,143.4 L382.7,143.3 L384.0,140.5 L385.3,142.2 L386.6,138.8 L387.9,139.7 L389.2,135.9 L390.5,137.4 L391.8,135.3 L393.1,137.0 L394.4,133.1 L395.7,134.4 L397.0,128.4 L398.3,132.5 L399.6,126.8 L400.9,128.7 L402.2,120.4 L403.5,123.5 L404.8,116.9 L406.1,115.8 L407.4,110.7 L408.7,112.6 L410.0,104.1 L411.3,102.3 L412.6,95.9 L413.9,96.6 L415.2,90.0 L416.5,89.2 L417.8,83.3 L419.1,83.2 L420.4,78.2 L421.7,80.2 L423.0,74.9 L424.3,78.3 L425.6,73.8 L426.9,73.6 L428.2,68.8 L429.5,70.9 L430.8,66.6 L432.1,67.7 L433.4,62.0 L434.7,66.3 L436.0,61.9 L437.3,62.8 L438.6,59.3 L439.9,60.6 L441.2,57.5 L442.5,59.7 L443.8,53.7 L445.1,55.6 L446.4,54.5 L447.7,56.0 L449.0,53.3 L450.3,53.7 L451.6,52.1 L452.9,53.5 L454.2,51.9 L455.5,53.3 L456.8,51.1 L458.1,54.6 L459.4,52.3 L460.7,53.8 L462.0,50.4 L463.3,53.3 L464.6,46.8 L465.9,50.0 L467.2,48.6 L468.5,51.5 L469.8,47.5 L471.1,50.8 L472.4,47.5 L473.7,50.7 L475.0,47.2 L476.3,51.3 L477.6,47.4 L478.9,50.5 L480.2,47.2 L481.5,49.1 L482.8,47.1" fill="none" stroke="#8e8e8e" stroke-width="1.1" stroke-linejoin="round"/>
<path d="M368.4,143.7 L369.7,145.0 L371.0,143.5 L372.3,146.3 L373.6,141.2 L374.9,145.6 L376.2,145.1 L377.5,149.5 L378.8,140.1 L380.1,135.4 L381.4,129.2 L382.7,134.0 L384.0,133.5 L385.3,134.8 L386.6,134.1 L387.9,138.2 L389.2,137.2 L390.5,139.1 L391.8,133.5 L393.1,134.1 L394.4,131.1 L395.7,136.0 L397.0,135.2 L398.3,138.6 L399.6,131.1 L400.9,129.7 L402.2,129.7 L403.5,135.2 L404.8,135.0 L406.1,137.7 L407.4,131.5 L408.7,128.0 L410.0,121.6 L411.3,127.3 L412.6,126.0 L413.9,130.7 L415.2,128.5 L416.5,130.5 L417.8,126.1 L419.1,127.5 L420.4,124.9 L421.7,126.2 L423.0,123.1 L424.3,125.9 L425.6,126.7 L426.9,132.5 L428.2,132.6 L429.5,135.7 L430.8,127.3 L432.1,125.1 L433.4,118.6 L434.7,116.1 L436.0,115.2 L437.3,121.7 L438.6,122.2 L439.9,127.9 L441.2,126.3 L442.5,132.1 L443.8,130.3 L445.1,131.0 L446.4,127.3 L447.7,129.5 L449.0,125.3 L450.3,128.8 L451.6,126.4 L452.9,130.9 L454.2,125.9 L455.5,128.1 L456.8,117.9 L458.1,124.0 L459.4,122.4 L460.7,128.9 L462.0,124.4 L463.3,124.6 L464.6,118.3 L465.9,121.5 L467.2,122.4 L468.5,126.4 L469.8,121.6 L471.1,122.0 L472.4,112.6 L473.7,116.4 L475.0,115.7 L476.3,122.0 L477.6,117.7 L478.9,116.8 L480.2,112.3 L481.5,112.9 L482.8,109.3" fill="none" stroke="#555" stroke-width="1.1" stroke-linejoin="round"/>
<path d="M367.2,317.1 L368.5,316.5 L369.8,311.0 L371.1,310.1 L372.4,303.2 L373.7,302.7 L375.0,307.5 L376.3,320.7 L377.6,315.0 L378.9,316.2 L380.2,308.2 L381.5,307.0 L382.8,303.8 L384.1,308.8 L385.4,306.6 L386.7,309.6 L388.0,307.0 L389.3,308.5 L390.6,303.7 L391.9,302.8 L393.2,302.5 L394.5,307.1 L395.8,305.6 L397.1,308.0 L398.4,299.1 L399.7,299.2 L401.0,291.5 L402.3,291.9 L403.6,295.5 L404.9,305.3 L406.2,299.8 L407.5,303.6 L408.8,297.1 L410.1,298.4 L411.4,297.7 L412.7,306.6 L414.0,302.4 L415.3,304.8 L416.6,299.9 L417.9,302.0 L419.2,296.6 L420.5,299.2 L421.8,294.7 L423.1,298.2 L424.4,292.9 L425.7,294.4 L427.0,292.3 L428.3,296.8 L429.6,293.8 L430.9,296.5 L432.2,291.1 L433.5,292.4 L434.8,286.2 L436.1,290.7 L437.4,287.0 L438.7,291.9 L440.0,286.6 L441.3,288.5 L442.6,279.1 L443.9,280.8 L445.2,273.5 L446.5,277.7 L447.8,273.2 L449.1,274.3 L450.4,272.0 L451.7,274.4 L453.0,266.7 L454.3,265.2 L455.6,260.7 L456.9,265.1 L458.2,267.7 L459.5,274.3 L460.8,268.6 L462.1,270.9 L463.4,266.6 L464.7,268.7 L466.0,260.3 L467.3,257.7 L468.6,248.1 L469.9,254.9 L471.2,251.6 L472.5,256.4 L473.8,252.9 L475.1,252.4 L476.4,250.0 L477.7,252.4 L479.0,245.2 L480.3,246.3 L481.6,238.2 L482.9,237.7 L484.2,234.6 L485.5,235.7" fill="none" stroke="#9a9a9a" stroke-width="1.1" stroke-linejoin="round"/>
<path d="M367.2,322.5 L368.5,324.9 L369.8,323.8 L371.1,327.7 L372.4,324.2 L373.7,325.9 L375.0,324.1 L376.3,326.4 L377.6,323.1 L378.9,323.2 L380.2,321.5 L381.5,323.7 L382.8,321.5 L384.1,323.0 L385.4,318.3 L386.7,323.5 L388.0,320.3 L389.3,320.7 L390.6,318.8 L391.9,320.4 L393.2,317.7 L394.5,320.5 L395.8,318.5 L397.1,318.7 L398.4,317.1 L399.7,318.6 L401.0,316.5 L402.3,318.1 L403.6,315.3 L404.9,317.6 L406.2,315.7 L407.5,319.1 L408.8,317.5 L410.1,321.7 L411.4,317.6 L412.7,318.5 L414.0,314.3 L415.3,313.8 L416.6,310.7 L417.9,312.1 L419.2,310.6 L420.5,314.0 L421.8,311.9 L423.1,314.8 L424.4,312.4 L425.7,317.0 L427.0,313.6 L428.3,314.6 L429.6,312.2 L430.9,314.2 L432.2,309.2 L433.5,310.9 L434.8,308.6 L436.1,312.3 L437.4,308.5 L438.7,310.8 L440.0,307.9 L441.3,312.8 L442.6,308.8 L443.9,313.8 L445.2,311.4 L446.5,312.6 L447.8,311.7 L449.1,314.3 L450.4,310.9 L451.7,312.3 L453.0,308.1 L454.3,308.3 L455.6,305.7 L456.9,306.2 L458.2,303.0 L459.5,304.2 L460.8,299.6 L462.1,301.2 L463.4,297.4 L464.7,299.6 L466.0,296.0 L467.3,299.9 L468.6,296.4 L469.9,297.2 L471.2,296.2 L472.5,295.5 L473.8,291.1 L475.1,289.2 L476.4,286.0 L477.7,292.0 L479.0,294.0 L480.3,300.0 L481.6,295.9 L482.9,297.4 L484.2,292.6 L485.5,291.7" fill="none" stroke="#4a4a4a" stroke-width="1.1" stroke-linejoin="round"/>
<path d="M42.0,36.0V80.0" stroke="#111" stroke-width="1.2"/><path d="M42.0,82.0L38.4,73.5L42.0,76.5L45.6,73.5Z" fill="#111"/>
<path d="M201.0,34.2V76.1" stroke="#111" stroke-width="1.2"/><path d="M201.0,78.1L197.4,69.6L201.0,72.6L204.6,69.6Z" fill="#111"/>
<path d="M377.3,35.2V77.1" stroke="#111" stroke-width="1.2"/><path d="M377.3,79.1L373.7,70.6L377.3,73.6L380.9,70.6Z" fill="#111"/>
<path d="M37.0,218.2V260.5" stroke="#111" stroke-width="1.2"/><path d="M37.0,262.5L33.7,254.3L37.0,257.2L40.3,254.3Z" fill="#111"/>
<path d="M204.9,216.0V258.0" stroke="#111" stroke-width="1.2"/><path d="M204.9,260.0L201.6,251.8L204.9,254.7L208.2,251.8Z" fill="#111"/>
<path d="M377.3,218.5V261.2" stroke="#111" stroke-width="1.2"/><path d="M377.3,263.2L374.0,255.0L377.3,257.9L380.6,255.0Z" fill="#111"/>
<path d="M302.4,400.5V434.2" stroke="#111" stroke-width="1.2"/><path d="M302.4,436.2L299.6,429.4L302.4,431.8L305.2,429.4Z" fill="#111"/>
<path d="M428.3,399.0V432.5" stroke="#111" stroke-width="1.2"/><path d="M428.3,434.5L425.5,427.7L428.3,430.1L431.1,427.7Z" fill="#111"/>
<path d="M28.3,400.4H33.2V495.5 M28.5,448.2H33.2 M28.8,495.5H33.2" fill="none" stroke="#666" stroke-width="1"/>
<rect x="33.2" y="465.8" width="46.8" height="29.7" fill="#262626"/>
<rect x="80.5" y="430.5" width="47" height="65" fill="#fff" stroke="#555" stroke-width="1"/>
<path d="M57,465.8V454.5 M104.3,430.5V418.7" stroke="#555" stroke-width="1"/>
<path d="M147.5,401.1H152.4V495.5 M147.8,448.8H152.4 M148,495.5H152.4" fill="none" stroke="#666" stroke-width="1"/>
<rect x="152.2" y="471.5" width="47.3" height="24" fill="#262626"/>
<rect x="200" y="433" width="47.5" height="62.5" fill="#fff" stroke="#555" stroke-width="1"/>
<path d="M175.3,471.5V463 M223.75,433V422.5" stroke="#555" stroke-width="1"/>
<g fill="#333">
<text x="2.45" y="19.80" font-size="26.63" font-weight="bold" fill="#111" textLength="16.76" lengthAdjust="spacingAndGlyphs">A</text>
<text x="89.95" y="19.24" font-size="12.78" textLength="27.57" lengthAdjust="spacingAndGlyphs">NZW</text>
<text x="23.50" y="32.79" font-size="12.54" textLength="58.27" lengthAdjust="spacingAndGlyphs">calcimycin</text>
<text x="6.55" y="53.00" font-size="11.96" textLength="14.25" lengthAdjust="spacingAndGlyphs">10</text>
<text x="20.05" y="44.69" font-size="9.40" textLength="5.18" lengthAdjust="spacingAndGlyphs">4</text>
<text x="4.65" y="160.45" font-size="11.96" textLength="14.54" lengthAdjust="spacingAndGlyphs">10</text>
<text x="18.50" y="151.72" font-size="9.40" textLength="5.92" lengthAdjust="spacingAndGlyphs">0</text>
<text transform="translate(13.50,126.00) rotate(-90)" font-size="11.54" textLength="58.69" lengthAdjust="spacingAndGlyphs">AV binding</text>
<text x="26.50" y="170.27" font-size="12.26" textLength="6.14" lengthAdjust="spacingAndGlyphs">0</text>
<text x="67.45" y="171.37" font-size="12.29" textLength="44.11" lengthAdjust="spacingAndGlyphs">Time (s)</text>
<text x="137.15" y="170.70" font-size="12.26" textLength="20.87" lengthAdjust="spacingAndGlyphs">500</text>
<text x="239.45" y="18.25" font-size="12.78" textLength="35.94" lengthAdjust="spacingAndGlyphs">DBA/2</text>
<text x="182.50" y="30.65" font-size="12.54" textLength="57.77" lengthAdjust="spacingAndGlyphs">calcimycin</text>
<text x="163.05" y="51.65" font-size="11.96" textLength="14.72" lengthAdjust="spacingAndGlyphs">10</text>
<text x="178.25" y="42.60" font-size="9.40" textLength="6.35" lengthAdjust="spacingAndGlyphs">4</text>
<text x="165.45" y="158.90" font-size="11.96" textLength="14.15" lengthAdjust="spacingAndGlyphs">10</text>
<text x="179.10" y="149.87" font-size="9.40" textLength="6.36" lengthAdjust="spacingAndGlyphs">0</text>
<text x="188.00" y="167.70" font-size="12.26" textLength="7.27" lengthAdjust="spacingAndGlyphs">0</text>
<text x="225.55" y="168.48" font-size="12.29" textLength="43.63" lengthAdjust="spacingAndGlyphs">Time (s)</text>
<text x="294.25" y="167.29" font-size="12.26" textLength="21.20" lengthAdjust="spacingAndGlyphs">500</text>
<text transform="translate(340.99,147.45) rotate(-90)" font-size="11.54" textLength="102.71" lengthAdjust="spacingAndGlyphs">% AV-binding cells</text>
<text x="358.80" y="31.74" font-size="12.54" textLength="58.38" lengthAdjust="spacingAndGlyphs">calcimycin</text>
<text x="343.35" y="47.54" font-size="12.26" textLength="19.63" lengthAdjust="spacingAndGlyphs">100</text>
<text x="356.20" y="152.97" font-size="12.26" textLength="6.91" lengthAdjust="spacingAndGlyphs">0</text>
<text x="363.70" y="168.20" font-size="12.26" textLength="6.55" lengthAdjust="spacingAndGlyphs">0</text>
<text x="403.55" y="169.55" font-size="12.29" textLength="43.54" lengthAdjust="spacingAndGlyphs">Time (s)</text>
<text x="471.05" y="167.79" font-size="12.26" textLength="21.60" lengthAdjust="spacingAndGlyphs">500</text>
<text x="490.45" y="54.07" font-size="12.78" textLength="27.16" lengthAdjust="spacingAndGlyphs">NZW</text>
<text x="490.45" y="120.10" font-size="12.78" textLength="24.81" lengthAdjust="spacingAndGlyphs">DBA</text>
<text x="2.50" y="202.25" font-size="26.48" font-weight="bold" fill="#111" textLength="16.85" lengthAdjust="spacingAndGlyphs">B</text>
<text x="18.50" y="213.72" font-size="12.54" textLength="58.24" lengthAdjust="spacingAndGlyphs">calcimycin</text>
<text x="94.35" y="214.20" font-size="12.78" textLength="28.14" lengthAdjust="spacingAndGlyphs">NOD</text>
<text x="3.05" y="235.85" font-size="11.96" textLength="14.32" lengthAdjust="spacingAndGlyphs">10</text>
<text x="17.35" y="226.82" font-size="9.40" textLength="6.13" lengthAdjust="spacingAndGlyphs">4</text>
<text x="4.65" y="340.20" font-size="11.96" textLength="14.75" lengthAdjust="spacingAndGlyphs">10</text>
<text x="18.50" y="331.37" font-size="9.40" textLength="6.38" lengthAdjust="spacingAndGlyphs">0</text>
<text transform="translate(11.91,303.90) rotate(-90)" font-size="11.54" textLength="59.40" lengthAdjust="spacingAndGlyphs">AV binding</text>
<text x="25.90" y="346.52" font-size="12.26" textLength="7.53" lengthAdjust="spacingAndGlyphs">0</text>
<text x="66.15" y="350.80" font-size="12.29" textLength="44.30" lengthAdjust="spacingAndGlyphs">Time (s)</text>
<text x="136.85" y="349.38" font-size="12.26" textLength="21.26" lengthAdjust="spacingAndGlyphs">500</text>
<text x="185.90" y="212.55" font-size="12.54" textLength="58.18" lengthAdjust="spacingAndGlyphs">calcimycin</text>
<text x="265.90" y="212.21" font-size="12.78" textLength="54.90" lengthAdjust="spacingAndGlyphs">C57BL/10</text>
<text x="172.45" y="234.15" font-size="11.96" textLength="13.57" lengthAdjust="spacingAndGlyphs">10</text>
<text x="186.15" y="224.60" font-size="9.40" textLength="5.30" lengthAdjust="spacingAndGlyphs">4</text>
<text x="170.45" y="338.95" font-size="11.96" textLength="14.77" lengthAdjust="spacingAndGlyphs">10</text>
<text x="184.50" y="329.85" font-size="9.40" textLength="7.01" lengthAdjust="spacingAndGlyphs">0</text>
<text x="191.70" y="348.77" font-size="12.26" textLength="7.96" lengthAdjust="spacingAndGlyphs">0</text>
<text x="236.85" y="348.96" font-size="12.29" textLength="43.79" lengthAdjust="spacingAndGlyphs">Time (s)</text>
<text x="304.05" y="349.04" font-size="12.26" textLength="21.79" lengthAdjust="spacingAndGlyphs">500</text>
<text transform="translate(343.50,329.75) rotate(-90)" font-size="11.54" textLength="102.38" lengthAdjust="spacingAndGlyphs">% AV-binding cells</text>
<text x="358.80" y="215.67" font-size="12.54" textLength="58.24" lengthAdjust="spacingAndGlyphs">calcimycin</text>
<text x="349.00" y="241.30" font-size="12.26" textLength="13.09" lengthAdjust="spacingAndGlyphs">60</text>
<text x="352.65" y="334.48" font-size="12.26" textLength="8.57" lengthAdjust="spacingAndGlyphs">0</text>
<text x="364.30" y="346.02" font-size="12.26" textLength="7.30" lengthAdjust="spacingAndGlyphs">0</text>
<text x="402.45" y="348.92" font-size="12.29" textLength="43.39" lengthAdjust="spacingAndGlyphs">Time (s)</text>
<text x="473.55" y="349.07" font-size="12.26" textLength="20.39" lengthAdjust="spacingAndGlyphs">500</text>
<text x="489.05" y="239.40" font-size="12.78" textLength="27.77" lengthAdjust="spacingAndGlyphs">NOD</text>
<text x="489.80" y="296.57" font-size="12.78" textLength="22.06" lengthAdjust="spacingAndGlyphs">B10</text>
<text x="1.0" y="388.0" font-size="25.2" fill="#111">C</text>
<text transform="translate(10.35,477.65) rotate(-90)" font-size="10.52" textLength="67.43" lengthAdjust="spacingAndGlyphs">% AV binding</text>
<text x="9.75" y="402.74" font-size="7.78" font-weight="bold" textLength="14.99" lengthAdjust="spacingAndGlyphs">100</text>
<text x="15.70" y="450.81" font-size="7.78" font-weight="bold" textLength="9.56" lengthAdjust="spacingAndGlyphs">50</text>
<text x="20.80" y="496.81" font-size="7.78" font-weight="bold" textLength="4.95" lengthAdjust="spacingAndGlyphs">0</text>
<text x="44.75" y="504.92" font-size="8.21" font-weight="bold" textLength="26.19" lengthAdjust="spacingAndGlyphs">DBA/2</text>
<text x="94.75" y="504.79" font-size="8.21" font-weight="bold" textLength="21.51" lengthAdjust="spacingAndGlyphs">NZW</text>
<text x="128.25" y="403.81" font-size="7.78" font-weight="bold" textLength="15.11" lengthAdjust="spacingAndGlyphs">100</text>
<text x="134.00" y="451.31" font-size="7.78" font-weight="bold" textLength="9.30" lengthAdjust="spacingAndGlyphs">50</text>
<text x="138.80" y="497.51" font-size="7.78" font-weight="bold" textLength="4.95" lengthAdjust="spacingAndGlyphs">0</text>
<text x="168.50" y="504.95" font-size="8.21" font-weight="bold" textLength="16.25" lengthAdjust="spacingAndGlyphs">B10</text>
<text x="214.25" y="504.79" font-size="8.21" font-weight="bold" textLength="20.51" lengthAdjust="spacingAndGlyphs">NZW</text>
<text x="271.60" y="387.35" font-size="24.81" font-weight="bold" fill="#111" textLength="16.88" lengthAdjust="spacingAndGlyphs">D</text>
<text x="287.20" y="398.16" font-size="10.42" textLength="47.04" lengthAdjust="spacingAndGlyphs">calcimycin</text>
<text x="352.45" y="396.53" font-size="11.43" textLength="21.68" lengthAdjust="spacingAndGlyphs">NZW</text>
<text x="273.60" y="416.83" font-size="10.55" textLength="12.17" lengthAdjust="spacingAndGlyphs">10</text>
<text x="286.15" y="409.00" font-size="7.44" textLength="4.88" lengthAdjust="spacingAndGlyphs">4</text>
<text x="275.30" y="501.35" font-size="10.55" textLength="10.17" lengthAdjust="spacingAndGlyphs">10</text>
<text x="285.50" y="494.60" font-size="7.44" textLength="5.28" lengthAdjust="spacingAndGlyphs">0</text>
<text transform="translate(284.70,475.30) rotate(-90)" font-size="9.45" textLength="48.33" lengthAdjust="spacingAndGlyphs">AV binding</text>
<text x="291.00" y="506.82" font-size="9.63" textLength="6.10" lengthAdjust="spacingAndGlyphs">0</text>
<text x="326.95" y="507.57" font-size="9.63" textLength="35.37" lengthAdjust="spacingAndGlyphs">Time (s)</text>
<text x="383.05" y="507.05" font-size="9.63" textLength="15.87" lengthAdjust="spacingAndGlyphs">500</text>
<text x="413.30" y="396.34" font-size="10.42" textLength="46.86" lengthAdjust="spacingAndGlyphs">calcimycin</text>
<text x="470.15" y="397.31" font-size="11.43" textLength="20.80" lengthAdjust="spacingAndGlyphs">NOD</text>
<text x="400.80" y="415.55" font-size="10.55" textLength="12.24" lengthAdjust="spacingAndGlyphs">10</text>
<text x="413.25" y="409.87" font-size="7.44" textLength="4.29" lengthAdjust="spacingAndGlyphs">4</text>
<text x="401.65" y="499.98" font-size="10.55" textLength="13.36" lengthAdjust="spacingAndGlyphs">10</text>
<text x="415.55" y="493.70" font-size="7.44" textLength="4.43" lengthAdjust="spacingAndGlyphs">0</text>
<text transform="translate(411.50,476.05) rotate(-90)" font-size="9.45" textLength="48.98" lengthAdjust="spacingAndGlyphs">AV binding</text>
<text x="418.50" y="507.80" font-size="9.63" textLength="5.48" lengthAdjust="spacingAndGlyphs">0</text>
<text x="448.45" y="507.47" font-size="9.63" textLength="34.22" lengthAdjust="spacingAndGlyphs">Time (s)</text>
<text x="503.40" y="507.79" font-size="9.63" textLength="15.70" lengthAdjust="spacingAndGlyphs">500</text>
</g>
</svg>
</body></html>
